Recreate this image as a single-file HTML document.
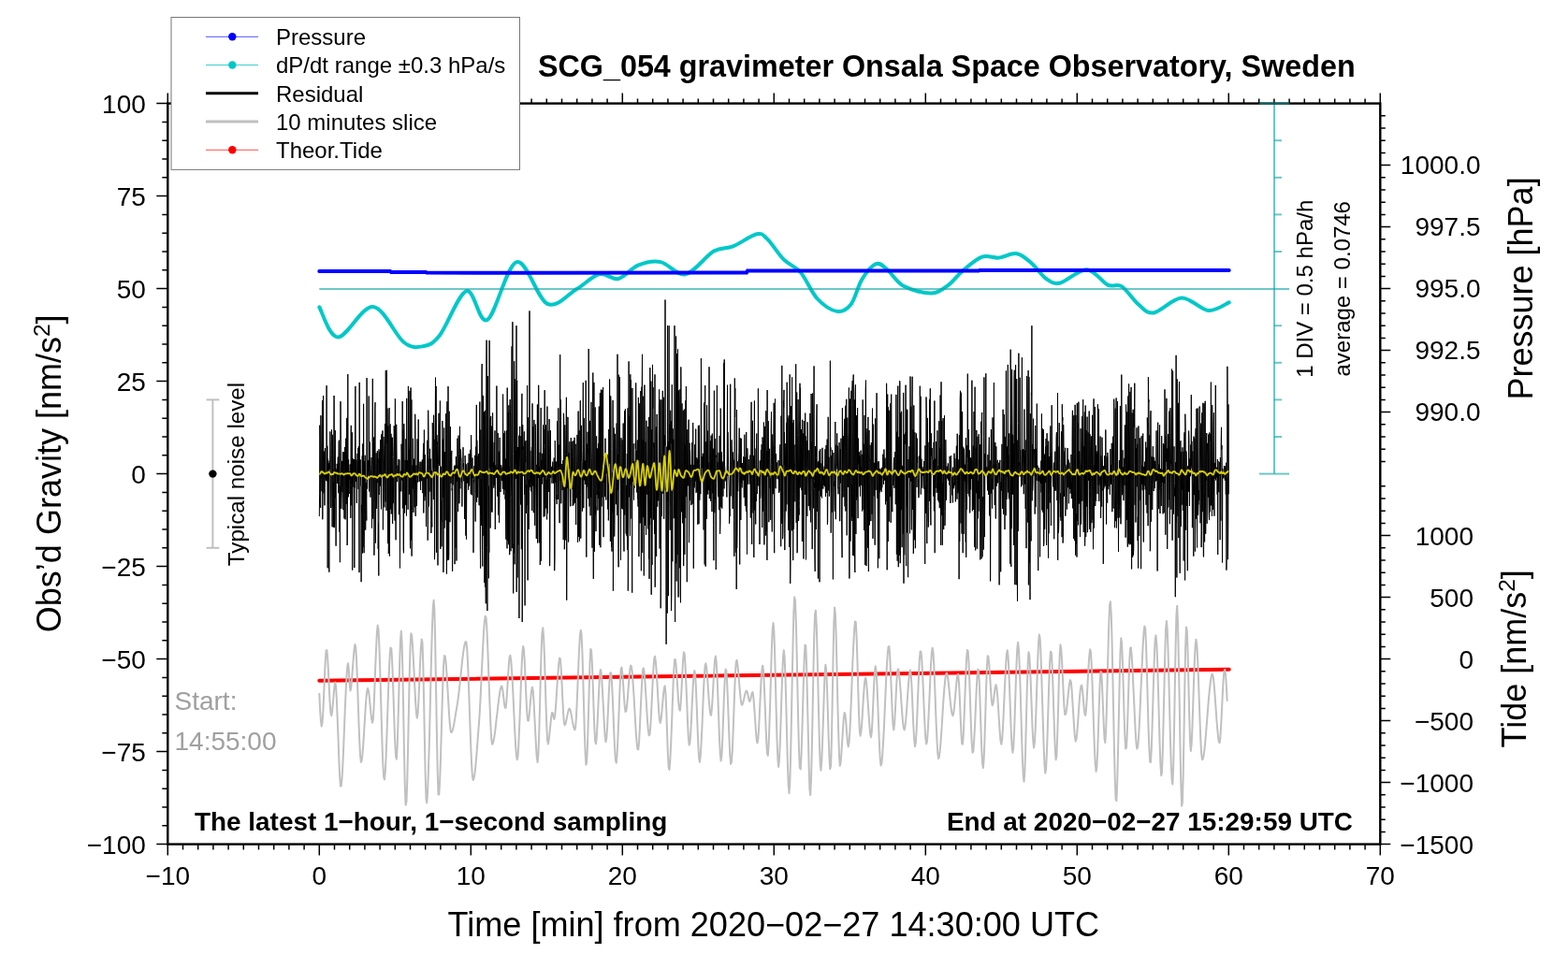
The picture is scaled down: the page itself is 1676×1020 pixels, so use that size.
<!DOCTYPE html><html><head><meta charset="utf-8"><title>SCG_054 gravimeter Onsala Space Observatory</title>
<style>html,body{margin:0;padding:0;background:#fff;overflow:hidden}svg{display:block}text{font-family:"Liberation Sans", Arial, Helvetica, sans-serif}</style></head><body>
<svg width="1676" height="1020" viewBox="0 0 1676 1020">
<rect width="1676" height="1020" fill="#fff"/>
<path d="M341.3,328.4 C344.6,333.7 351.8,360.5 361.3,360.4 C370.9,360.3 386.9,327 398.6,327.9 C410.3,328.8 422.4,358.6 431.4,365.7 C440.3,372.8 445.8,371.4 452.3,370.2 C458.8,369 462.5,368.1 470.2,358.3 C477.9,348.5 490.2,313.8 498.6,311.1 C507.1,308.4 511.9,347.1 520.9,341.9 C529.8,336.7 541.6,282.9 552.3,280.1 C563,277.3 574.4,320.1 585.1,324.9 C595.8,329.7 607.2,314.3 616.4,309 C625.6,303.7 632.8,295 640.3,293.2 C647.8,291.4 654.1,299.6 661.1,298 C668.1,296.4 674.5,286.7 682,283.7 C689.5,280.7 697.4,278.5 705.9,280.1 C714.4,281.7 723.2,295.1 732.7,293.2 C742.2,291.3 754.1,273.8 762.6,268.8 C771.1,263.8 775.8,266.5 783.5,263.4 C791.2,260.3 802.7,251.6 808.8,250.3 C814.9,249 815.1,250.8 820,255.4 C824.9,260 831.9,271.7 837.9,277.7 C843.9,283.7 849.8,284.2 855.8,291.2 C861.8,298.2 867.2,312.6 873.7,319.5 C880.2,326.4 888.6,331.9 894.6,332.9 C900.6,333.9 905,331.2 909.5,325.5 C914,319.8 916.9,305.8 921.4,298.6 C925.9,291.4 931.8,283.9 936.3,282.2 C940.8,280.5 943.3,284.2 948.3,288.2 C953.3,292.2 958.2,301.9 966.2,306.1 C974.2,310.3 988,313.8 996,313.5 C1004,313.2 1008.4,308.6 1013.9,304.6 C1019.4,300.6 1022.8,294.7 1028.8,289.7 C1034.8,284.7 1043.2,277 1049.7,274.7 C1056.2,272.4 1061.4,276.2 1067.6,275.6 C1073.8,275 1081,270.1 1087,271.2 C1093,272.3 1098.2,277.7 1103.4,282.2 C1108.6,286.7 1113.3,294.6 1118.3,298 C1123.3,301.4 1126,304.1 1133.2,302.5 C1140.4,300.9 1153.1,287.8 1161.6,288.2 C1170.1,288.6 1177.8,301.6 1184,304.6 C1190.2,307.6 1193.4,302.6 1198.9,306.1 C1204.4,309.6 1211.1,320.8 1216.8,325.5 C1222.5,330.2 1225.5,335.5 1233.2,334.4 C1240.9,333.2 1253.3,319 1263,318.6 C1272.7,318.2 1283,331.2 1291.4,332 C1299.9,332.8 1310,324.8 1313.7,323.4" fill="none" stroke="#00c8c8" stroke-width="4" stroke-linejoin="round" stroke-linecap="round"/>
<polyline points="341.3,289.9 417,289.9 418,290.9 455,290.9 456,291.5 560,291.8 798,291.5 799,289.6 1046,289.6 1047,289 1313.7,289" fill="none" stroke="#0000ff" stroke-width="4" stroke-linecap="round"/>
<g stroke="rgba(20,165,165,0.62)" stroke-width="2" fill="none">
<line x1="341.3" y1="308.9" x2="1378" y2="308.9"/>
<line x1="1362" y1="110.6" x2="1362" y2="506.6"/>
<line x1="1346" y1="506.6" x2="1378" y2="506.6"/>
<line x1="1362" y1="150.2" x2="1370" y2="150.2"/>
<line x1="1362" y1="189.8" x2="1370" y2="189.8"/>
<line x1="1362" y1="229.4" x2="1370" y2="229.4"/>
<line x1="1362" y1="269" x2="1370" y2="269"/>
<line x1="1362" y1="348.2" x2="1370" y2="348.2"/>
<line x1="1362" y1="387.8" x2="1370" y2="387.8"/>
<line x1="1362" y1="427.4" x2="1370" y2="427.4"/>
<line x1="1362" y1="467" x2="1370" y2="467"/>
</g>
<polyline points="341.3,727.8 1313.7,715.8" fill="none" stroke="#ff0000" stroke-width="4" stroke-linecap="round"/>
<polyline points="341.3,741 342.1,758.4 342.9,770.8 343.7,776.5 344.5,773.1 345.4,760.4 346.2,742.3 347,722.8 347.8,705.8 348.6,695.4 349.4,695.1 350.2,704.1 351,718.6 351.8,735.5 352.6,751.1 353.5,762.1 354.3,765.2 355.1,760.7 355.9,752 356.7,742 357.5,733.6 358.3,729.6 359.1,734.2 359.9,748.3 360.7,768.5 361.6,791.3 362.4,813.3 363.2,830.9 364,840.7 364.8,840.2 365.6,831.6 366.4,817.3 367.2,799 368,778.5 368.8,757.8 369.7,738.7 370.5,723 371.3,712.5 372.1,709.3 372.9,717.7 373.7,731.4 374.5,738.5 375.3,735.1 376.1,726.5 376.9,715.3 377.8,703.7 378.6,694.2 379.4,689.1 380.2,691.7 381,704.1 381.8,723.3 382.6,746.3 383.4,770 384.2,791.4 385,807.3 385.9,814.8 386.7,813.1 387.5,806.2 388.3,795.8 389.1,783.1 389.9,769.7 390.7,756.8 391.5,746 392.3,738.6 393.1,736 394,738.7 394.8,745.2 395.6,753.6 396.4,762.2 397.2,769.1 398,772.7 398.8,769.5 399.6,756.2 400.4,736.4 401.2,713.9 402.1,692.6 402.9,676.2 403.7,668.6 404.5,672.9 405.3,688.2 406.1,711.4 406.9,739 407.7,768.1 408.5,795.2 409.3,817.3 410.2,831.1 411,833.5 411.8,825.4 412.6,809.4 413.4,788.2 414.2,764.3 415,740.2 415.8,718.5 416.6,701.7 417.4,692.5 418.3,693.4 419.1,705.6 419.9,725.6 420.7,749.7 421.5,774.2 422.3,795.2 423.1,809 423.9,811.7 424.7,797.8 425.5,771.6 426.4,739.6 427.2,708.3 428,684.5 428.8,674.8 429.6,686.9 430.4,718.5 431.2,760.7 432,804.5 432.8,840.8 433.6,860.7 434.5,857.1 435.3,834.6 436.1,800.1 436.9,760.4 437.7,722.2 438.5,692.2 439.3,677.2 440.1,679 440.9,688.2 441.7,702.3 442.6,719 443.4,736.1 444.2,751.4 445,762.7 445.8,767.7 446.6,763.4 447.4,749.8 448.2,730.9 449,710.8 449.8,693.6 450.7,683.6 451.5,686.6 452.3,710.9 453.1,748.9 453.9,791.6 454.7,829.9 455.5,854.8 456.3,858.5 457.1,846.9 457.9,825.1 458.8,796.1 459.6,762.9 460.4,728.7 461.2,696.4 462,669.2 462.8,649.9 463.6,641.8 464.4,653.1 465.2,687.1 466,733.8 466.9,783.2 467.7,825.1 468.5,849.4 469.3,849.5 470.1,835.9 470.9,813.6 471.7,786.4 472.5,757.8 473.3,731.6 474.1,711.4 475,701 475.8,701.8 476.6,708.4 477.4,718.9 478.2,732 479,746.1 479.8,759.7 480.6,771.4 481.4,779.7 482.2,783.1 483.1,782.4 483.9,780.3 484.7,777 485.5,772.9 486.3,768.2 487.1,763.2 487.9,758.4 488.7,753.7 489.5,748.3 490.3,741.8 491.2,734.5 492,726.7 492.8,718.9 493.6,711.2 494.4,703.9 495.2,697.5 496,692.2 496.8,688.3 497.6,686.1 498.4,686.6 499.3,694.9 500.1,710.2 500.9,730.5 501.7,753.5 502.5,777 503.3,799 504.1,817.3 504.9,829.7 505.7,834.1 506.5,832.3 507.4,827.6 508.2,820.5 509,811.7 509.8,801.7 510.6,791.1 511.4,780.5 512.2,770.3 513,757.4 513.8,741.5 514.6,723.9 515.5,706.1 516.3,689.3 517.1,674.9 517.9,664.2 518.7,658.7 519.5,660.2 520.3,670.5 521.1,687.7 521.9,709.2 522.7,732.5 523.6,755.3 524.4,775.1 525.2,789.3 526,795.7 526.8,795 527.6,792.1 528.4,787.6 529.2,781.9 530,775.1 530.8,767.9 531.7,760.5 532.5,753.3 533.3,746.6 534.1,741 534.9,736.6 535.7,734 536.5,733.6 537.3,737.5 538.1,744.4 538.9,751.7 539.8,756.7 540.6,756.8 541.4,749.7 542.2,737.8 543,724 543.8,711.3 544.6,702.5 545.4,700.6 546.2,705.8 547,716.4 547.9,731 548.7,747.9 549.5,765.5 550.3,782.3 551.1,796.7 551.9,807.2 552.7,812.2 553.5,809.2 554.3,796.9 555.1,778.1 556,755.9 556.8,733.1 557.6,712.7 558.4,697.6 559.2,690.9 560,694.9 560.8,707.9 561.6,725.7 562.4,744.7 563.2,761 564.1,770.5 564.9,770.6 565.7,764.7 566.5,755.8 567.3,746.2 568.1,738.4 568.9,734.7 569.7,738.3 570.5,749.4 571.3,765 572.2,782.3 573,798.4 573.8,810.2 574.6,815 575.4,806.9 576.2,785.5 577,756.3 577.8,724.7 578.6,696.4 579.4,676.7 580.3,671.3 581.1,680.7 581.9,700.5 582.7,726.1 583.5,752.8 584.3,776.3 585.1,791.9 585.9,795.6 586.7,791.4 587.5,783.7 588.4,774.7 589.2,766.7 590,761.9 590.8,762.5 591.6,766.9 592.4,769 593.2,765.1 594,756.3 594.8,744.3 595.6,731.2 596.5,718.8 597.3,708.9 598.1,703.4 598.9,704.6 599.7,714.4 600.5,729.6 601.3,746.8 602.1,762.4 602.9,773 603.7,775.4 604.6,773.5 605.4,770.1 606.2,765.9 607,761.9 607.8,758.8 608.6,757.6 609.4,758.8 610.2,761.8 611,766.1 611.8,770.7 612.7,775.2 613.5,778.6 614.3,780.4 615.1,778 615.9,767.6 616.7,751.3 617.5,731.8 618.3,711.6 619.1,693.5 619.9,680 620.8,673.7 621.6,678.7 622.4,696.8 623.2,723.2 624,753.3 624.8,782.2 625.6,805.3 626.4,817.8 627.2,814.7 628,795.6 628.9,767.2 629.7,736.3 630.5,709.6 631.3,694.1 632.1,695.3 632.9,709.3 633.7,731 634.5,755.4 635.3,777.5 636.1,792.3 637,795.3 637.8,787.5 638.6,772.9 639.4,755 640.2,737.3 641,723.1 641.8,715.9 642.6,718.2 643.4,728.2 644.2,743 645.1,759.6 645.9,775.5 646.7,787.6 647.5,793.2 648.3,789.5 649.1,777.6 649.9,761 650.7,743.3 651.5,728.2 652.3,719.2 653.2,719.7 654,729.6 654.8,745.9 655.6,765.4 656.4,785.2 657.2,802.3 658,813.5 658.8,815.7 659.6,807 660.4,790.1 661.3,768.7 662.1,746.7 662.9,727.7 663.7,715.5 664.5,713.6 665.3,720 666.1,731.1 666.9,743.8 667.7,754.8 668.5,761 669.4,760 670.2,754 671,744.6 671.8,733.9 672.6,723.5 673.4,715.4 674.2,711.4 675,712.9 675.8,719.7 676.6,730.3 677.5,743.4 678.3,757.8 679.1,772.1 679.9,784.9 680.7,795 681.5,801.1 682.3,801.4 683.1,793 683.9,777.9 684.7,759.4 685.6,740.7 686.4,724.9 687.2,715.3 688,714.5 688.8,720.4 689.6,730.8 690.4,743.7 691.2,757.5 692,770.4 692.8,780.6 693.7,786.3 694.5,785.4 695.3,776.7 696.1,762.5 696.9,745.5 697.7,728.3 698.5,713.5 699.3,703.8 700.1,701.8 700.9,707.6 701.8,718.7 702.6,732.8 703.4,747.6 704.2,760.8 705,770 705.8,772.9 706.6,769.3 707.4,761.7 708.2,752.2 709,742.9 709.9,735.9 710.7,733.4 711.5,741.9 712.3,760.8 713.1,784.2 713.9,806.3 714.7,821 715.5,823 716.3,813.7 717.1,796.8 718,775.3 718.8,752.4 719.6,730.9 720.4,714.1 721.2,704.9 722,705.6 722.8,713.3 723.6,725.1 724.4,738.4 725.2,750.4 726.1,758.4 726.9,759.6 727.7,751.5 728.5,737 729.3,720.3 730.1,705.7 730.9,697.2 731.7,698.9 732.5,710.8 733.3,729.3 734.2,750.8 735,771.7 735.8,788.1 736.6,796.6 737.4,794.6 738.2,784.6 739,769.5 739.8,752.2 740.6,735.8 741.4,723.1 742.3,717 743.1,720.8 743.9,734.7 744.7,754.5 745.5,776.5 746.3,796.5 747.1,810.6 747.9,814.9 748.7,808.9 749.5,795.8 750.4,778 751.2,758.1 752,738.8 752.8,722.5 753.6,711.9 754.4,709.4 755.2,714 756,723.1 756.8,734.7 757.6,746.7 758.5,757.1 759.3,763.8 760.1,764.8 760.9,757.9 761.7,745.5 762.5,730.6 763.3,716.2 764.1,705.5 764.9,701.5 765.7,707.9 766.6,723.6 767.4,744.9 768.2,768.3 769,790 769.8,806.3 770.6,813.6 771.4,808.5 772.2,792.5 773,770.4 773.8,747.1 774.7,727.2 775.5,715.6 776.3,716.4 777.1,728 777.9,746.7 778.7,768.7 779.5,790.2 780.3,807.5 781.1,816.8 781.9,814.9 782.8,802.6 783.6,783.4 784.4,760.9 785.2,738.4 786,719.5 786.8,707.7 787.6,705.8 788.4,710.4 789.2,718.7 790,728.8 790.9,739.1 791.7,747.7 792.5,753 793.3,753.6 794.1,751.7 794.9,748.6 795.7,745 796.5,741.6 797.3,739.2 798.1,738.6 799,740.8 799.8,744.8 800.6,748.6 801.4,750 802.2,748 803,744.2 803.8,740.8 804.6,740.1 805.4,745.6 806.2,756.1 807.1,768.8 807.9,781.2 808.7,790.7 809.5,794.6 810.3,790.3 811.1,778.7 811.9,762.7 812.7,745.1 813.5,728.9 814.3,716.8 815.2,711.7 816,716.9 816.8,731.5 817.6,751.6 818.4,773.2 819.2,792.4 820,805.4 820.8,808 821.6,797.1 822.4,775.6 823.3,748.1 824.1,718.9 824.9,692.6 825.7,673.4 826.5,665.9 827.3,674.4 828.1,696.8 828.9,727.4 829.7,760.6 830.5,790.8 831.4,812.4 832.2,820 833,812.4 833.8,794.7 834.6,770.7 835.4,744.8 836.2,720.8 837,702.9 837.8,695.3 838.6,702.5 839.5,723.9 840.3,753.8 841.1,786.7 841.9,817.1 842.7,839.4 843.5,848.1 844.3,837.3 845.1,809.1 845.9,770.3 846.7,727.2 847.6,686.5 848.4,654.6 849.2,638.2 850,642.4 850.8,663.5 851.6,695.8 852.4,733.4 853.2,770.7 854,801.7 854.8,820.7 855.7,822.4 856.5,808.8 857.3,785.1 858.1,756.4 858.9,727.6 859.7,703.6 860.5,689.4 861.3,690.6 862.1,711.4 862.9,744.9 863.8,783.4 864.6,818.9 865.4,843.7 866.2,850 867,834.2 867.8,802.2 868.6,761.3 869.4,718.8 870.2,681.8 871,657.5 871.9,652.8 872.7,667 873.5,694 874.3,728.1 875.1,763.8 875.9,795.3 876.7,817.2 877.5,823.7 878.3,814 879.1,793.3 880,767.2 880.8,741.1 881.6,720.4 882.4,710.7 883.2,716.2 884,734.2 884.8,759.2 885.6,785.9 886.4,808.7 887.2,822.3 888.1,819.2 888.9,791.8 889.7,749.7 890.5,704.3 891.3,667.1 892.1,649.5 892.9,656.8 893.7,680 894.5,712.9 895.3,749.4 896.2,783.3 897,808.5 897.8,818.8 898.6,815.2 899.4,805.5 900.2,792.6 901,779.2 901.8,768 902.6,761.9 903.4,763.4 904.3,772.1 905.1,783.7 905.9,793.9 906.7,798.4 907.5,794.4 908.3,783.3 909.1,767 909.9,747.3 910.7,726.1 911.5,705.4 912.4,686.9 913.2,672.7 914,664.5 914.8,665.3 915.6,680.3 916.4,705.4 917.2,734.5 918,761.7 918.8,781.1 919.6,786.8 920.5,782.1 921.3,772.3 922.1,759.5 922.9,746.1 923.7,734.4 924.5,726.5 925.3,724.7 926.1,729.6 926.9,739.1 927.7,751.3 928.6,764.4 929.4,776.2 930.2,784.8 931,788.2 931.8,782.7 932.6,768.5 933.4,750 934.2,731.6 935,717.5 935.8,712.3 936.7,718.3 937.5,732.8 938.3,752.7 939.1,774.4 939.9,794.9 940.7,810.7 941.5,818.5 942.3,816.8 943.1,808.9 943.9,796.2 944.8,780.2 945.6,762.2 946.4,743.7 947.2,725.9 948,710.4 948.8,698.4 949.6,691.4 950.4,691.1 951.2,701.4 952,719.4 952.9,740.6 953.7,760.7 954.5,775.5 955.3,780.4 956.1,774.1 956.9,760.2 957.7,743.2 958.5,727.2 959.3,716.7 960.1,715.3 961,719.8 961.8,728 962.6,738.6 963.4,750.3 964.2,761.6 965,771.3 965.8,778 966.6,780.5 967.4,777.5 968.2,770 969.1,759.5 969.9,747.5 970.7,735.6 971.5,725.4 972.3,718.5 973.1,716.4 973.9,723.2 974.7,738 975.5,756.9 976.3,775.8 977.2,790.9 978,798.2 978.8,794.7 979.6,782.2 980.4,763.8 981.2,742.9 982,722.5 982.8,705.9 983.6,696.4 984.4,696.6 985.3,705.5 986.1,720.4 986.9,738.8 987.7,758.1 988.5,775.7 989.3,789 990.1,795.5 990.9,793.1 991.7,782.6 992.5,766.7 993.4,747.8 994.2,728.5 995,711.1 995.8,698.4 996.6,692.7 997.4,696.5 998.2,709.3 999,728 999.8,749.9 1000.6,772 1001.5,791.5 1002.3,805.5 1003.1,811.1 1003.9,809 1004.7,802.9 1005.5,793.7 1006.3,782.3 1007.1,769.7 1007.9,756.8 1008.7,744.5 1009.6,733.7 1010.4,725.4 1011.2,720.4 1012,719.6 1012.8,722.6 1013.6,728.4 1014.4,735.9 1015.2,744.1 1016,752.1 1016.8,759 1017.7,763.7 1018.5,765.3 1019.3,762.4 1020.1,755.7 1020.9,746.7 1021.7,737.1 1022.5,728.5 1023.3,722.5 1024.1,720.9 1024.9,729 1025.8,745.5 1026.6,765.3 1027.4,783.6 1028.2,795.3 1029,795.7 1029.8,784.9 1030.6,766.8 1031.4,744.9 1032.2,723.2 1033,705.3 1033.9,695.1 1034.7,696 1035.5,708.5 1036.3,728.7 1037.1,752.4 1037.9,775.7 1038.7,794.5 1039.5,804.7 1040.3,803.4 1041.1,793.1 1042,777.2 1042.8,758.5 1043.6,740 1044.4,724.7 1045.2,715.6 1046,716.2 1046.8,729.5 1047.6,751.4 1048.4,776.6 1049.2,800 1050.1,816.5 1050.9,821 1051.7,810.6 1052.5,789.5 1053.3,762.9 1054.1,735.8 1054.9,713.5 1055.7,701.3 1056.5,702.1 1057.3,710.6 1058.2,723.2 1059,736.7 1059.8,748.1 1060.6,754.2 1061.4,753 1062.2,747.6 1063,740.6 1063.8,734.5 1064.6,732.1 1065.4,735.8 1066.3,745 1067.1,757.5 1067.9,770.9 1068.7,783.3 1069.5,792.3 1070.3,795.8 1071.1,791.4 1071.9,779.7 1072.7,763.3 1073.5,744.6 1074.4,725.9 1075.2,709.9 1076,698.8 1076.8,695.3 1077.6,702.1 1078.4,717.9 1079.2,739 1080,761.8 1080.8,782.7 1081.6,798.2 1082.5,804.7 1083.3,798.8 1084.1,782.1 1084.9,758.9 1085.7,733.5 1086.5,710.2 1087.3,693.2 1088.1,686.8 1088.9,693.7 1089.7,711.2 1090.6,735.7 1091.4,763.5 1092.2,791.1 1093,814.8 1093.8,830.9 1094.6,835.8 1095.4,824.3 1096.2,799.2 1097,767.3 1097.8,735.2 1098.7,709.6 1099.5,697.2 1100.3,701 1101.1,714.6 1101.9,734.4 1102.7,756.5 1103.5,777.2 1104.3,792.8 1105.1,799.6 1105.9,794.2 1106.8,778.2 1107.6,755.6 1108.4,730.4 1109.2,706.5 1110,687.9 1110.8,678.5 1111.6,681.9 1112.4,696.8 1113.2,719.7 1114,746.9 1114.9,774.9 1115.7,799.9 1116.5,818.4 1117.3,826.7 1118.1,821.9 1118.9,805.7 1119.7,782.1 1120.5,755.4 1121.3,729.4 1122.1,708.5 1123,696.5 1123.8,697.5 1124.6,710.6 1125.4,731.9 1126.2,757 1127,781.6 1127.8,801.4 1128.6,812.2 1129.4,808.5 1130.2,787.7 1131.1,757.2 1131.9,725.3 1132.7,699.9 1133.5,689.3 1134.3,694.2 1135.1,706.9 1135.9,723.9 1136.7,741.5 1137.5,756.1 1138.3,764.1 1139.2,763.7 1140,759.1 1140.8,752.1 1141.6,744 1142.4,736.3 1143.2,730.2 1144,727.1 1144.8,729.2 1145.6,737.7 1146.4,750.1 1147.3,764.2 1148.1,777.6 1148.9,787.9 1149.7,792.6 1150.5,790.5 1151.3,783.5 1152.1,773.2 1152.9,761.4 1153.7,749.7 1154.5,739.8 1155.4,733.5 1156.2,732.5 1157,737.7 1157.8,746.6 1158.6,756.1 1159.4,763.3 1160.2,764.9 1161,758.3 1161.8,745.6 1162.6,729.8 1163.5,713.9 1164.3,701.1 1165.1,694.3 1165.9,696.9 1166.7,709.8 1167.5,729.8 1168.3,753.7 1169.1,778.3 1169.9,800.5 1170.7,817.1 1171.6,824.9 1172.4,820.1 1173.2,803.2 1174,779.3 1174.8,753.7 1175.6,731.5 1176.4,718.1 1177.2,718.4 1178,731.8 1178.8,752.4 1179.7,773.8 1180.5,789.8 1181.3,794.1 1182.1,782.2 1182.9,757.8 1183.7,726.6 1184.5,694 1185.3,665.6 1186.1,646.8 1186.9,643.3 1187.8,657.9 1188.6,686.5 1189.4,723.7 1190.2,764.4 1191,803.3 1191.8,835.1 1192.6,854.6 1193.4,856.3 1194.2,837.6 1195,804.6 1195.9,765.1 1196.7,726.4 1197.5,696.3 1198.3,682.2 1199.1,687.9 1199.9,707 1200.7,733.6 1201.5,761.9 1202.3,786.1 1203.1,800.5 1204,799.6 1204.8,784 1205.6,759.5 1206.4,732.3 1207.2,708.2 1208,693.4 1208.8,692.4 1209.6,699.9 1210.4,713.1 1211.2,729.9 1212.1,748.4 1212.9,766.7 1213.7,782.8 1214.5,794.8 1215.3,800.6 1216.1,798.9 1216.9,790.5 1217.7,777.1 1218.5,760.2 1219.3,741.2 1220.2,721.7 1221,703.3 1221.8,687.4 1222.6,675.6 1223.4,669.5 1224.2,672 1225,688.1 1225.8,713.7 1226.6,743.9 1227.4,774 1228.3,799.1 1229.1,814.3 1229.9,815.1 1230.7,802.4 1231.5,780.3 1232.3,753.1 1233.1,725.2 1233.9,700.7 1234.7,684 1235.5,679.3 1236.4,689 1237.2,709.6 1238,737 1238.8,766.9 1239.6,795 1240.4,817.2 1241.2,829.2 1242,825.7 1242.8,804 1243.6,770.7 1244.5,732.9 1245.3,697.8 1246.1,672.4 1246.9,663.9 1247.7,673 1248.5,694.3 1249.3,723.5 1250.1,756.4 1250.9,788.6 1251.7,815.9 1252.6,834 1253.4,838.5 1254.2,819.5 1255,781.6 1255.8,735.1 1256.6,690.4 1257.4,657.8 1258.2,647.8 1259,665.2 1259.8,702.2 1260.7,749.7 1261.5,798.3 1262.3,838.8 1263.1,861.8 1263.9,858.4 1264.7,828.9 1265.5,784.1 1266.3,735.3 1267.1,693.7 1267.9,670.6 1268.8,674.2 1269.6,697.1 1270.4,730.2 1271.2,764.7 1272,791.9 1272.8,802.9 1273.6,796.1 1274.4,778.7 1275.2,755 1276,729.4 1276.9,706 1277.7,689.4 1278.5,683.7 1279.3,689.8 1280.1,704.1 1280.9,724.1 1281.7,746.9 1282.5,769.8 1283.3,790.2 1284.1,805.2 1285,812.2 1285.8,811.4 1286.6,807.7 1287.4,801.7 1288.2,793.9 1289,784.7 1289.8,774.7 1290.6,764.3 1291.4,754 1292.2,744.3 1293.1,735.7 1293.9,728.6 1294.7,723.5 1295.5,720.8 1296.3,721.5 1297.1,726.3 1297.9,734.5 1298.7,744.9 1299.5,756.5 1300.3,768.2 1301.2,778.9 1302,787.5 1302.8,793.1 1303.6,794.3 1304.4,788 1305.2,775.3 1306,759 1306.8,742.1 1307.6,727.4 1308.4,717.7 1309.3,715.9 1310.1,721.8 1310.9,733.7 1311.7,749.8" fill="none" stroke="#c0c0c0" stroke-width="2" stroke-linejoin="round"/>
<polyline points="341.3,552.1 341.6,527.9 341.8,454.7 342.1,469.9 342.4,538.1 342.7,542.9 342.9,444.2 343.2,471.1 343.5,508.5 343.7,512.5 344,525.3 344.3,466.5 344.5,428 344.8,555.3 345.1,513.5 345.4,495.6 345.6,423 345.9,527.3 346.2,482.6 346.4,492.1 346.7,510.2 347,540.4 347.2,521.5 347.5,479.3 347.8,511.4 348.1,507.1 348.3,513.8 348.6,504.5 348.9,510 349.1,412.2 349.4,514.6 349.7,511.2 349.9,476.8 350.2,607.3 350.5,490.2 350.8,514 351,539.5 351.3,504.7 351.6,495.4 351.8,611.7 352.1,492.6 352.4,501.4 352.6,501.7 352.9,461.4 353.2,486.4 353.5,523.2 353.7,543 354,526.5 354.3,478.3 354.5,459.4 354.8,479.1 355.1,563.3 355.3,510.2 355.6,464.9 355.9,541.4 356.2,515.4 356.4,563.9 356.7,499.6 357,423 357.2,427.3 357.5,564.1 357.8,555.5 358,500.8 358.3,460.2 358.6,532 358.9,533.8 359.1,583.7 359.4,501.7 359.7,503.7 359.9,502.2 360.2,495.9 360.5,499.6 360.7,517 361,498.7 361.3,488.6 361.6,527.1 361.8,516.6 362.1,472.9 362.4,470.7 362.6,514.7 362.9,568.8 363.2,519.5 363.4,601.2 363.7,508.9 364,429.2 364.3,469.2 364.5,524 364.8,543.9 365.1,533.6 365.3,521.5 365.6,492.9 365.9,516.2 366.1,526.1 366.4,483.2 366.7,523.6 367,545.2 367.2,511.1 367.5,483.3 367.8,503.8 368,554.4 368.3,509.3 368.6,477.9 368.8,490.2 369.1,555.4 369.4,514.5 369.7,468.7 369.9,522.1 370.2,539 370.5,522.7 370.7,446.9 371,583 371.3,582.1 371.5,523 371.8,400.1 372.1,513.7 372.4,531.3 372.6,491.4 372.9,523.3 373.2,528 373.4,504.3 373.7,512.6 374,502.9 374.2,496.4 374.5,522.1 374.8,553.9 375.1,461.9 375.3,454.9 375.6,518.5 375.9,540.5 376.1,503.7 376.4,462.4 376.7,609.6 376.9,543.6 377.2,495.4 377.5,490.5 377.8,518.4 378,520.8 378.3,492.4 378.6,491.2 378.8,607 379.1,518.8 379.4,521.7 379.7,427.6 379.9,413 380.2,503.6 380.5,514.8 380.7,491.7 381,507.4 381.3,537.9 381.5,523.3 381.8,490.8 382.1,485 382.4,490.5 382.6,508.5 382.9,478.9 383.2,523.2 383.4,477 383.7,514.3 384,612.1 384.2,408.9 384.5,506.5 384.8,495.3 385.1,492.1 385.3,491.6 385.6,519.8 385.9,519.6 386.1,622.2 386.4,539.8 386.7,544.5 386.9,548.7 387.2,487.4 387.5,591.5 387.8,474.5 388,585.1 388.3,561.8 388.6,431.8 388.8,482 389.1,591.2 389.4,568.4 389.6,493.1 389.9,508.9 390.2,486.8 390.5,500.3 390.7,566.6 391,537.6 391.3,516.1 391.5,535.3 391.8,556.5 392.1,404.1 392.3,481 392.6,522.6 392.9,494 393.2,508.7 393.4,498.6 393.7,492.1 394,504 394.2,423.5 394.5,499.4 394.8,525.5 395,502.6 395.3,472.6 395.6,491 395.9,531.4 396.1,531.7 396.4,508.8 396.7,501.6 396.9,496.4 397.2,489.1 397.5,564.6 397.7,527.8 398,500 398.3,404.9 398.6,472.4 398.8,554.6 399.1,549.8 399.4,521 399.6,467.6 399.9,593.7 400.2,569.8 400.4,512.7 400.7,437.2 401,430.2 401.3,537.8 401.5,580.5 401.8,498.1 402.1,484.4 402.3,495.9 402.6,543.8 402.9,525.3 403.1,488.5 403.4,482 403.7,516.1 404,490.4 404.2,586.8 404.5,558.8 404.8,615.5 405,480.4 405.3,529 405.6,483.1 405.8,518.1 406.1,518.6 406.4,519.5 406.7,470.3 406.9,504.1 407.2,522.2 407.5,544.4 407.7,464.4 408,507.6 408.3,506.7 408.5,469.8 408.8,461.1 409.1,460.4 409.4,566.4 409.6,527.6 409.9,467 410.2,475.6 410.4,485.8 410.7,516.9 411,542.4 411.2,508.3 411.5,453 411.8,529.2 412.1,536.5 412.3,396.1 412.6,465.6 412.9,403.6 413.1,545.9 413.4,395.8 413.7,474.2 414,436.6 414.2,458.6 414.5,581.1 414.8,455.4 415,498.6 415.3,591.9 415.6,580.7 415.8,444.9 416.1,436.1 416.4,594.6 416.7,545.6 416.9,455.7 417.2,453.5 417.5,544.4 417.7,504.5 418,463.8 418.3,549.5 418.5,476.3 418.8,467.6 419.1,486.1 419.4,467.9 419.6,560 419.9,541.3 420.2,521 420.4,538.1 420.7,488.5 421,472.2 421.2,455.3 421.5,462 421.8,529 422.1,556.6 422.3,426.4 422.6,428.5 422.9,551.5 423.1,577.3 423.4,502.3 423.7,453.8 423.9,470.4 424.2,506.9 424.5,515.1 424.8,514.9 425,497.7 425.3,510.3 425.6,509.8 425.8,507.9 426.1,491 426.4,550.1 426.6,528.3 426.9,491.5 427.2,520.4 427.5,607.4 427.7,526.2 428,517.5 428.3,503.6 428.5,506.6 428.8,525.4 429.1,474.7 429.3,483.8 429.6,513.4 429.9,513.3 430.2,429.1 430.4,543.4 430.7,459.8 431,494.5 431.2,588 431.5,591.3 431.8,453.1 432,468.8 432.3,535 432.6,548.6 432.9,512.3 433.1,491.9 433.4,539.8 433.7,517.4 433.9,469.3 434.2,483 434.5,551.5 434.7,425.9 435,509.3 435.3,493 435.6,492.2 435.8,508.3 436.1,544.8 436.4,412.9 436.6,456.9 436.9,510.7 437.2,480.7 437.4,528.5 437.7,471.9 438,417.9 438.3,571.4 438.5,586.3 438.8,451.6 439.1,414.5 439.3,577.3 439.6,577.3 439.9,427.4 440.1,594.6 440.4,545.8 440.7,539.3 441,497.4 441.2,522.5 441.5,468.8 441.8,527.6 442,547.8 442.3,523.7 442.6,496.6 442.8,490.6 443.1,542.3 443.4,530.3 443.7,442.8 443.9,452.9 444.2,551.8 444.5,511.8 444.7,508.1 445,497.5 445.3,541.1 445.5,540.1 445.8,512.5 446.1,469.4 446.4,495.4 446.6,515.6 446.9,510.5 447.2,448.5 447.4,498.4 447.7,501.2 448,507.9 448.2,515 448.5,511.9 448.8,495.5 449.1,493.7 449.3,507.9 449.6,524 449.9,498 450.1,493.8 450.4,510.5 450.7,514.2 451,507.6 451.2,491.7 451.5,491.6 451.8,527.2 452,524.8 452.3,488.4 452.6,473.9 452.8,548.5 453.1,518.7 453.4,459.6 453.7,499.2 453.9,535.3 454.2,494.3 454.5,486.2 454.7,526.7 455,530.8 455.3,510.6 455.5,563.1 455.8,504.7 456.1,511.6 456.4,508.2 456.6,490.9 456.9,470.8 457.2,577.7 457.4,561.5 457.7,438.7 458,466.4 458.2,486.6 458.5,541.4 458.8,514.3 459.1,490.6 459.3,501.7 459.6,479.8 459.9,525.6 460.1,520.6 460.4,490.6 460.7,509.3 460.9,570 461.2,503.2 461.5,553.7 461.8,563.4 462,501 462.3,452.1 462.6,464.4 462.8,499.8 463.1,502.4 463.4,534.1 463.6,443.8 463.9,499.9 464.2,469.9 464.5,598.2 464.7,590.5 465,465.3 465.3,442.6 465.5,403.6 465.8,505.7 466.1,412.9 466.3,441.6 466.6,590.7 466.9,465.1 467.2,474.8 467.4,472.5 467.7,523.9 468,604.4 468.2,509.2 468.5,496.8 468.8,452.2 469,441.8 469.3,459.8 469.6,496.4 469.9,497.9 470.1,485.5 470.4,428.5 470.7,536.7 470.9,586.9 471.2,498.8 471.5,556 471.7,535.1 472,584.3 472.3,556.8 472.6,557.8 472.8,450 473.1,486.5 473.4,532 473.6,469.8 473.9,611.9 474.2,567.3 474.4,510.2 474.7,457.4 475,564.7 475.3,518.3 475.5,483.2 475.8,515.8 476.1,556.3 476.3,516.8 476.6,442.3 476.9,467.8 477.1,507.4 477.4,613.6 477.7,439.8 478,429.2 478.2,543.5 478.5,599.1 478.8,506.8 479,413.1 479.3,477.7 479.6,598.6 479.8,593.2 480.1,439.7 480.4,501.9 480.7,511.7 480.9,558.2 481.2,506.1 481.5,456.3 481.7,509.2 482,516.8 482.3,507 482.5,487.8 482.8,481.9 483.1,524.3 483.4,522.1 483.6,610.9 483.9,503.3 484.2,518.4 484.4,512.7 484.7,502.9 485,508.3 485.2,506.1 485.5,498.2 485.8,498.4 486.1,603.2 486.3,497.5 486.6,525 486.9,516.8 487.1,585.8 487.4,488.2 487.7,545.1 488,599.5 488.2,497.4 488.5,515 488.8,491.9 489,468.7 489.3,532 489.6,547.1 489.8,485.3 490.1,465.6 490.4,485.8 490.7,529.4 490.9,538.3 491.2,533.8 491.5,455.9 491.7,520.3 492,522.3 492.3,494.6 492.5,480.5 492.8,489.1 493.1,490 493.4,515.6 493.6,508.4 493.9,541.6 494.2,508.8 494.4,505.3 494.7,508.8 495,478.2 495.2,499.1 495.5,495.2 495.8,514.4 496.1,503.8 496.3,511.7 496.6,554.9 496.9,523.8 497.1,487.1 497.4,494.4 497.7,513.7 497.9,572.7 498.2,496.3 498.5,576.6 498.8,513.1 499,505.6 499.3,516.6 499.6,510.2 499.8,502.3 500.1,495 500.4,511.4 500.6,523.7 500.9,504.6 501.2,485.2 501.5,506.7 501.7,519.5 502,509.7 502.3,495.2 502.5,484.1 502.8,480.8 503.1,512 503.3,528.4 503.6,465.2 503.9,484.8 504.2,528.6 504.4,529.3 504.7,504.4 505,489.5 505.2,511.3 505.5,507.4 505.8,502.7 506,590.9 506.3,513.2 506.6,515.9 506.9,499.1 507.1,498 507.4,508.2 507.7,486.9 507.9,527.2 508.2,557.6 508.5,484.2 508.7,477.7 509,486.1 509.3,432.9 509.6,536.8 509.8,470.8 510.1,482.8 510.4,528.1 510.6,531.8 510.9,487.6 511.2,497.2 511.4,511.9 511.7,485 512,539.9 512.3,540.3 512.5,464.8 512.8,429.6 513.1,472.2 513.3,582.6 513.6,607.6 513.9,459.5 514.1,549.4 514.4,512.3 514.7,561.9 515,400.7 515.2,389 515.5,588.6 515.8,605.5 516,554.9 516.3,422.9 516.6,428.7 516.8,572.8 517.1,571.1 517.4,440.2 517.7,463.6 517.9,623.1 518.2,501.6 518.5,627.8 518.7,438.8 519,612.6 519.3,645.3 519.5,566.8 519.8,383.9 520.1,363.7 520.4,391.5 520.6,585.5 520.9,653.1 521.2,509.8 521.4,402 521.7,464.9 522,553.9 522.3,618.3 522.5,519.7 522.8,590.8 523.1,364 523.3,500.4 523.6,447.4 523.9,506.6 524.1,564.5 524.4,500.4 524.7,444.9 525,500.9 525.2,547.1 525.5,479.6 525.8,455.6 526,547.7 526.3,519.4 526.6,441.4 526.8,473.2 527.1,499.5 527.4,494.4 527.7,521.2 527.9,521.7 528.2,472.9 528.5,519.1 528.7,480.3 529,460.4 529.3,565.9 529.5,535.7 529.8,497.3 530.1,505.3 530.4,508 530.6,511 530.9,412.6 531.2,495.5 531.4,504.3 531.7,530.6 532,518.9 532.2,462.9 532.5,550.4 532.8,497.2 533.1,492.3 533.3,482.8 533.6,558.8 533.9,532.6 534.1,467.9 534.4,488 534.7,508.6 534.9,526 535.2,514.2 535.5,505.1 535.8,497.3 536,501.4 536.3,513 536.6,514.1 536.8,507.1 537.1,499.8 537.4,522.7 537.6,421.5 537.9,499.3 538.2,514.1 538.5,528.6 538.7,463.2 539,506.7 539.3,523.5 539.5,460.7 539.8,462.7 540.1,533.8 540.3,490.5 540.6,559.9 540.9,576.7 541.2,504.4 541.4,460.4 541.7,510 542,586.4 542.2,414.6 542.5,565.1 542.8,578.3 543,563.7 543.3,440.7 543.6,582.2 543.9,433.3 544.1,498 544.4,500.1 544.7,593.2 544.9,432.2 545.2,427.1 545.5,437.7 545.7,533.7 546,589.3 546.3,531.3 546.6,504.1 546.8,440.7 547.1,370.3 547.4,586.1 547.6,473.1 547.9,344.2 548.2,485.6 548.4,593.2 548.7,634.4 549,581.9 549.3,591.3 549.5,386.8 549.8,386.2 550.1,603.3 550.3,549.4 550.6,405.5 550.9,422.3 551.1,512 551.4,482.4 551.7,495.4 552,348.2 552.2,632.9 552.5,408.5 552.8,407 553,617.5 553.3,564.2 553.6,478 553.8,492 554.1,582.5 554.4,502.7 554.7,465.7 554.9,661 555.2,499.4 555.5,482.9 555.7,455.9 556,505.9 556.3,534.3 556.5,539.4 556.8,466.2 557.1,492.7 557.4,587.2 557.6,459 557.9,420.9 558.2,665 558.4,630 558.7,454.2 559,480.8 559.3,477.7 559.5,508.7 559.8,499.3 560.1,471.1 560.3,461.4 560.6,528.8 560.9,513.1 561.1,647.4 561.4,472.6 561.7,494.4 562,470.9 562.2,486.5 562.5,548.8 562.8,518.4 563,540.2 563.3,483.7 563.6,412.2 563.8,543 564.1,620.4 564.4,509.1 564.7,446.3 564.9,497.3 565.2,565.9 565.5,513.1 565.7,524.3 566,332.4 566.3,499 566.5,520.9 566.8,481.8 567.1,501.5 567.4,502 567.6,517.1 567.9,525.6 568.2,510.3 568.4,478 568.7,545.9 569,431.4 569.2,519.6 569.5,497 569.8,456 570.1,506.2 570.3,548.2 570.6,504.9 570.9,449 571.1,528.2 571.4,505.4 571.7,561.8 571.9,537.2 572.2,453.6 572.5,460.3 572.8,522.1 573,533 573.3,576 573.6,498 573.8,496.8 574.1,498.8 574.4,432.5 574.6,580.5 574.9,500.7 575.2,501.7 575.5,510.9 575.7,411.8 576,505.6 576.3,580.4 576.5,499.3 576.8,503.1 577.1,483.8 577.3,604 577.6,510.4 577.9,510.9 578.2,436 578.4,599.7 578.7,492.2 579,493.5 579.2,512.3 579.5,517.4 579.8,484.9 580,506 580.3,510.1 580.6,454.4 580.9,499 581.1,552.6 581.4,541.2 581.7,459.2 581.9,475 582.2,417.1 582.5,551.9 582.7,479.8 583,505.1 583.3,454.3 583.6,504.6 583.8,543.5 584.1,512.8 584.4,547.8 584.6,555.4 584.9,434.5 585.2,473.8 585.4,549.1 585.7,465.2 586,460.7 586.3,475.4 586.5,485.2 586.8,525.9 587.1,448.1 587.3,483.7 587.6,605.1 587.9,569 588.1,477.4 588.4,460.2 588.7,511 589,504.4 589.2,506.8 589.5,501.9 589.8,498.8 590,516.8 590.3,508.7 590.6,497 590.8,493.7 591.1,498.8 591.4,503.3 591.7,516.9 591.9,502.1 592.2,489.6 592.5,506 592.7,610.2 593,595.5 593.3,471.1 593.6,510.4 593.8,515.7 594.1,495.4 594.4,493.7 594.6,533.7 594.9,529.1 595.2,539.1 595.4,502.1 595.7,450.3 596,465.3 596.3,492.2 596.5,534 596.8,436.3 597.1,506 597.3,498.7 597.6,475.6 597.9,547 598.1,559.2 598.4,453.6 598.7,379.2 599,514.2 599.2,427.5 599.5,475.2 599.8,538.3 600,504.4 600.3,502.9 600.6,509.8 600.8,496 601.1,524.1 601.4,515 601.7,498.9 601.9,492.1 602.2,577.1 602.5,441.8 602.7,449.7 603,510.2 603.3,587.3 603.5,581 603.8,454.4 604.1,466.5 604.4,485.4 604.6,575.7 604.9,577.6 605.2,450.3 605.4,424.8 605.7,641.7 606,548.9 606.2,512.7 606.5,521.9 606.8,445.9 607.1,446.1 607.3,484.9 607.6,579.5 607.9,493.8 608.1,484.1 608.4,492.9 608.7,501.5 608.9,472.2 609.2,509.6 609.5,537.2 609.8,541.3 610,532.6 610.3,468.1 610.6,516.9 610.8,504.2 611.1,510.8 611.4,522.6 611.6,478.7 611.9,471.9 612.2,540.8 612.5,532.5 612.7,488.4 613,471.2 613.3,530.9 613.5,539.4 613.8,497.8 614.1,467.8 614.3,481.9 614.6,537.7 614.9,477.6 615.2,474.8 615.4,536.8 615.7,561 616,506.8 616.2,532.4 616.5,503 616.8,472.6 617,464.9 617.3,505.3 617.6,579.7 617.9,525.5 618.1,439.6 618.4,560.9 618.7,573.9 618.9,461.9 619.2,460.3 619.5,578.5 619.7,552.9 620,467.5 620.3,428.3 620.6,529.4 620.8,575.6 621.1,494.2 621.4,454.9 621.6,490.2 621.9,494.3 622.2,514.5 622.4,546.7 622.7,504.5 623,481.5 623.3,409.1 623.5,493.6 623.8,543.2 624.1,492.6 624.3,447.1 624.6,513.4 624.9,507.9 625.1,492.4 625.4,493.2 625.7,518 626,475.1 626.2,406.8 626.5,495.3 626.8,595.6 627,529.8 627.3,474.6 627.6,482.4 627.8,520.6 628.1,461.8 628.4,478.5 628.7,487.9 628.9,533.2 629.2,373 629.5,449.9 629.7,526.6 630,541.5 630.3,536.5 630.6,449.9 630.8,519.2 631.1,551.3 631.4,508.2 631.6,531.8 631.9,429.8 632.2,483 632.4,489.6 632.7,551.1 633,585.7 633.3,471.8 633.5,435.5 633.8,398.5 634.1,586.7 634.3,618.9 634.6,521.8 634.9,408.9 635.1,450.8 635.4,589.7 635.7,558.6 636,442.8 636.2,435.5 636.5,550.3 636.8,541.4 637,568.1 637.3,523.4 637.6,466.4 637.8,493.6 638.1,529.1 638.4,479.5 638.7,496.4 638.9,545.6 639.2,511.6 639.5,474.2 639.7,533 640,497 640.3,434.6 640.5,524.6 640.8,582.7 641.1,507.9 641.4,420 641.6,516.9 641.9,585.3 642.2,535.6 642.4,416.6 642.7,473.3 643,541.4 643.2,477 643.5,416.9 643.8,531.6 644.1,529.6 644.3,484 644.6,414 644.9,533.8 645.1,574.2 645.4,496.3 645.7,507.8 645.9,516.3 646.2,488.5 646.5,531.1 646.8,513.8 647,468.7 647.3,507.6 647.6,529.7 647.8,534.5 648.1,497.3 648.4,506.3 648.6,505.5 648.9,485.8 649.2,493.8 649.5,544.4 649.7,503.3 650,487.1 650.3,556.4 650.5,552.5 650.8,459 651.1,489.8 651.3,496.1 651.6,405.5 651.9,450.1 652.2,527.7 652.4,578.9 652.7,423.4 653,433.7 653.2,479.2 653.5,584.7 653.8,513.7 654,589.6 654.3,534.8 654.6,505.4 654.9,548.4 655.1,427.9 655.4,631.7 655.7,560.5 655.9,494.3 656.2,457.4 656.5,468.5 656.7,573.5 657,548.3 657.3,494.7 657.6,463.9 657.8,480.7 658.1,538.5 658.4,539.2 658.6,520.5 658.9,478.7 659.2,452.5 659.4,504.6 659.7,551.1 660,378.8 660.3,502.2 660.5,523.5 660.8,486.1 661.1,606.3 661.3,400.7 661.6,489.4 661.9,495.9 662.1,499.6 662.4,403 662.7,496.4 663,501.4 663.2,522.6 663.5,598.8 663.8,471.7 664,468.2 664.3,518.7 664.6,543.7 664.8,519.4 665.1,470.4 665.4,517.5 665.7,544.5 665.9,477 666.2,452.6 666.5,489.9 666.7,573 667,589.5 667.3,458 667.6,439.1 667.8,550.6 668.1,541.5 668.4,437.3 668.6,490.3 668.9,522 669.2,570.7 669.4,519.2 669.7,518.9 670,573.2 670.3,485 670.5,588 670.8,530.3 671.1,436.3 671.3,631.7 671.6,586.2 671.9,527.2 672.1,386.4 672.4,531.4 672.7,444.7 673,475.6 673.2,490.2 673.5,572.9 673.8,400.3 674,518.3 674.3,406.2 674.6,438.1 674.8,521.3 675.1,554.6 675.4,508.9 675.7,633.7 675.9,414.9 676.2,497.3 676.5,502.2 676.7,515.1 677,474.3 677.3,524.5 677.5,534.6 677.8,493 678.1,501.6 678.4,521.3 678.6,513.8 678.9,509.6 679.2,473.8 679.4,479.9 679.7,409.4 680,493.8 680.2,481.7 680.5,511.7 680.8,526.5 681.1,484 681.3,470.5 681.6,533.9 681.9,534.4 682.1,541.7 682.4,424.9 682.7,510.9 682.9,595.1 683.2,555.4 683.5,438.9 683.8,431.3 684,559.5 684.3,557.9 684.6,500.9 684.8,418.1 685.1,480.5 685.4,610.3 685.6,448.7 685.9,413.8 686.2,421.8 686.5,378.8 686.7,591 687,470.4 687.3,537.7 687.5,553.1 687.8,423.7 688.1,431.4 688.3,615.5 688.6,489.7 688.9,411.6 689.2,453.1 689.4,561.8 689.7,530.6 690,472.5 690.2,484.6 690.5,572 690.8,467.3 691,449.7 691.3,498.2 691.6,518.7 691.9,528.7 692.1,503.6 692.4,565.4 692.7,497.8 692.9,456 693.2,516.9 693.5,597.7 693.7,445.9 694,618.9 694.3,535.5 694.6,560.8 694.8,393.1 695.1,496.4 695.4,553.9 695.6,549 695.9,407.6 696.2,635.8 696.4,459.6 696.7,581.9 697,603.9 697.3,546.3 697.5,389.9 697.8,436.8 698.1,414.2 698.3,530.7 698.6,555.6 698.9,473.2 699.1,478.3 699.4,474.5 699.7,571 700,400.4 700.2,627.7 700.5,562.9 700.8,567.6 701,464 701.3,456.4 701.6,594.9 701.9,509.3 702.1,442.9 702.4,470.2 702.7,541.7 702.9,509.9 703.2,533 703.5,515 703.7,535.4 704,527.3 704.3,437.3 704.6,416.4 704.8,536.6 705.1,586.5 705.4,455.6 705.6,430 705.9,427.3 706.2,650.3 706.4,627.3 706.7,521.5 707,427.5 707.3,534.8 707.5,551.9 707.8,488.1 708.1,498.3 708.3,417.8 708.6,470.2 708.9,527.7 709.1,515 709.4,424.8 709.7,554.8 710,488.6 710.2,493.5 710.5,465.1 710.8,476.2 711,320.5 711.3,524.2 711.6,503.4 711.8,490.6 712.1,688.8 712.4,522.2 712.7,506.3 712.9,477.5 713.2,655.7 713.5,348.2 713.7,535.4 714,519.5 714.3,472.4 714.5,637.1 714.8,456.6 715.1,348.2 715.4,504.7 715.6,454 715.9,544.7 716.2,566.7 716.4,542.6 716.7,438.8 717,474.2 717.2,450.3 717.5,653.1 717.8,636.2 718.1,565.7 718.3,411.3 718.6,556.2 718.9,600.3 719.1,458.3 719.4,524.4 719.7,483.1 719.9,469.7 720.2,554.2 720.5,537.4 720.8,516.3 721,348.2 721.3,528.9 721.6,665 721.8,498.1 722.1,577.9 722.4,602.2 722.6,359.5 722.9,525.5 723.2,621.5 723.5,412.4 723.7,378.1 724,593.1 724.3,445.9 724.5,373.4 724.8,540 725.1,638.5 725.3,463.8 725.6,417.3 725.9,539.1 726.2,607.3 726.4,544.3 726.7,431.8 727,416 727.2,634.7 727.5,644.3 727.8,392.4 728,422.2 728.3,525.6 728.6,547.3 728.9,431.4 729.1,431.5 729.4,552.1 729.7,559.4 729.9,470.7 730.2,439.1 730.5,548.9 730.7,605.1 731,488.7 731.3,437.6 731.6,516.2 731.8,592.8 732.1,475.5 732.4,545 732.6,553.8 732.9,428.2 733.2,530.8 733.4,413.1 733.7,474.6 734,470.7 734.3,622.2 734.5,492 734.8,459.3 735.1,489.3 735.3,519.4 735.6,514.4 735.9,457.6 736.1,448.7 736.4,580.2 736.7,568.9 737,473.7 737.2,535.1 737.5,481.5 737.8,510.9 738,503.4 738.3,496.9 738.6,512.6 738.9,540.1 739.1,516.8 739.4,483.8 739.7,473.2 739.9,521.6 740.2,538.8 740.5,508.6 740.7,452 741,489.4 741.3,607.7 741.6,552.5 741.8,496.9 742.1,503 742.4,521.3 742.6,475.4 742.9,476.9 743.2,514.5 743.4,513.5 743.7,458.6 744,526.9 744.3,525.7 744.5,501.5 744.8,489.2 745.1,504.2 745.3,525.9 745.6,491 745.9,560.8 746.1,511.1 746.4,455 746.7,527.2 747,560 747.2,454.7 747.5,495.5 747.8,534.8 748,525 748.3,505.1 748.6,506.2 748.8,528.2 749.1,484.8 749.4,383.1 749.7,408.1 749.9,512.2 750.2,488 750.5,488.8 750.7,500.3 751,493.5 751.3,484.8 751.5,512.2 751.8,486 752.1,566.5 752.4,481.8 752.6,430.6 752.9,491.3 753.2,603.5 753.4,444.9 753.7,412.1 754,493.7 754.2,605.7 754.5,539.2 754.8,472.4 755.1,529.9 755.3,554.7 755.6,433.3 755.9,477 756.1,527.6 756.4,460.7 756.7,528.5 756.9,494.5 757.2,502.3 757.5,524.1 757.8,518.3 758,392.3 758.3,533.1 758.6,517.3 758.8,502.8 759.1,478.6 759.4,471.3 759.6,535.6 759.9,520.9 760.2,465.7 760.5,502.1 760.7,520.5 761,547.1 761.3,463.6 761.5,489.6 761.8,527.4 762.1,497 762.3,479.7 762.6,561.4 762.9,599.2 763.2,491.7 763.4,417.7 763.7,548.2 764,532 764.2,533.6 764.5,469.8 764.8,468.9 765,557.1 765.3,609 765.6,516.7 765.9,486.6 766.1,489.1 766.4,412 766.7,502.7 766.9,493.9 767.2,502.6 767.5,531.2 767.7,510.6 768,483.9 768.3,484.4 768.6,545.2 768.8,510.7 769.1,465.9 769.4,483.5 769.6,570.8 769.9,559.4 770.2,436.6 770.4,442.6 770.7,542.2 771,508.9 771.3,483.2 771.5,513 771.8,543.6 772.1,493.5 772.3,495.2 772.6,508.2 772.9,530.7 773.1,513.8 773.4,490.7 773.7,388.3 774,522.4 774.2,384.4 774.5,497.2 774.8,500.9 775,514.6 775.3,513.6 775.6,509.3 775.9,506.2 776.1,512.9 776.4,507.3 776.7,527.4 776.9,531.5 777.2,494.5 777.5,411.7 777.7,508.7 778,462.1 778.3,478.6 778.6,497.8 778.8,509.8 779.1,516 779.4,531.2 779.6,559.8 779.9,543.8 780.2,552 780.4,527 780.7,410.7 781,530.4 781.3,494 781.5,505.6 781.8,481.7 782.1,470.3 782.3,476.2 782.6,488.8 782.9,511.9 783.1,543.9 783.4,483.6 783.7,493.8 784,531.9 784.2,491.8 784.5,556.8 784.8,594.8 785,470.2 785.3,404.4 785.6,446 785.8,415 786.1,585.1 786.4,590.7 786.7,572.7 786.9,499.2 787.2,629.9 787.5,438.2 787.7,586.1 788,566.4 788.3,493.4 788.5,522.3 788.8,525.2 789.1,512.9 789.4,493 789.6,490.8 789.9,483.8 790.2,457.7 790.4,517.6 790.7,603.4 791,504.6 791.2,468.4 791.5,508.5 791.8,556 792.1,526.7 792.3,468.8 792.6,516.8 792.9,508.3 793.1,521.4 793.4,501.2 793.7,495 793.9,509.9 794.2,513.6 794.5,507.6 794.8,488.2 795,508.1 795.3,532 795.6,502.6 795.8,464.7 796.1,496 796.4,540.9 796.6,488.8 796.9,504.5 797.2,539.9 797.5,546.6 797.7,462 798,537.9 798.3,555.8 798.5,592.6 798.8,479.3 799.1,489 799.3,509.9 799.6,517.6 799.9,495.3 800.2,491.1 800.4,502.2 800.7,506.7 801,505.1 801.2,517.6 801.5,516.8 801.8,486.6 802,494.1 802.3,553.6 802.6,525.7 802.9,449.4 803.1,429.8 803.4,548 803.7,581.9 803.9,489 804.2,449.7 804.5,450.3 804.7,538.1 805,548.5 805.3,512.4 805.6,487 805.8,596 806.1,537.5 806.4,428.5 806.6,545.5 806.9,479.5 807.2,496.3 807.4,531.5 807.7,560.5 808,527.4 808.3,536 808.5,474.5 808.8,463.5 809.1,508 809.3,528 809.6,501.4 809.9,514.9 810.2,519.4 810.4,415.4 810.7,506.4 811,513.5 811.2,512.9 811.5,522.8 811.8,510.4 812,582 812.3,492.5 812.6,533.1 812.9,529.8 813.1,498.7 813.4,481.1 813.7,491.7 813.9,503.7 814.2,475.1 814.5,519.8 814.7,564 815,467.5 815.3,470.9 815.6,527.2 815.8,546.7 816.1,519.5 816.4,451.5 816.6,537.7 816.9,582.4 817.2,530.2 817.4,455.9 817.7,499.8 818,541.3 818.3,572.6 818.5,529.1 818.8,439.3 819.1,491.4 819.3,567.5 819.6,482.2 819.9,598.9 820.1,417.1 820.4,509.4 820.7,502.5 821,475.7 821.2,450.2 821.5,481.7 821.8,558.2 822,555 822.3,489.7 822.6,479.8 822.8,493 823.1,522.1 823.4,511.4 823.7,555.9 823.9,513.7 824.2,458 824.5,440.3 824.7,496.3 825,551.2 825.3,568.5 825.5,488.3 825.8,464.5 826.1,522.8 826.4,528.2 826.6,474.9 826.9,470.4 827.2,430.8 827.4,560.6 827.7,591.2 828,476.9 828.2,490.9 828.5,426.5 828.8,519.9 829.1,522.2 829.3,485 829.6,485.9 829.9,512.2 830.1,507.4 830.4,494.5 830.7,508.9 830.9,507 831.2,504.8 831.5,506.7 831.8,512.3 832,492.2 832.3,499.4 832.6,527 832.8,509.7 833.1,525.3 833.4,503 833.6,477.5 833.9,475.3 834.2,520.3 834.5,549.8 834.7,584.2 835,444.7 835.3,493.9 835.5,559.8 835.8,390.9 836.1,549.8 836.3,497.5 836.6,576.2 836.9,571.1 837.2,548.7 837.4,428.4 837.7,435.6 838,416.9 838.2,497.4 838.5,462.2 838.8,588.1 839,560.2 839.3,542.2 839.6,481.2 839.9,474.1 840.1,546.6 840.4,499.7 840.7,451.9 840.9,539.3 841.2,408.7 841.5,495.3 841.7,508.4 842,447 842.3,534.7 842.6,566.7 842.8,503.9 843.1,444.3 843.4,460.9 843.6,584.9 843.9,466.2 844.2,400.4 844.4,423.2 844.7,623.9 845,594.5 845.3,549.9 845.5,434.4 845.8,481 846.1,556.8 846.3,567.3 846.6,403.4 846.9,508.1 847.2,452.2 847.4,528.3 847.7,599.1 848,533.2 848.2,448.9 848.5,565.5 848.8,506.7 849,475.4 849.3,496.3 849.6,495.8 849.9,536.3 850.1,527.1 850.4,455.3 850.7,389.3 850.9,461.1 851.2,558.9 851.5,481.1 851.7,419.5 852,591.2 852.3,590.4 852.6,465.5 852.8,451.9 853.1,427.1 853.4,457.9 853.6,556.9 853.9,543.5 854.2,550.4 854.4,535.7 854.7,449.7 855,409.8 855.3,521.4 855.5,414.7 855.8,508 856.1,508.1 856.3,459 856.6,489.6 856.9,524.1 857.1,481.4 857.4,578.9 857.7,448.8 858,532.8 858.2,578.7 858.5,463.5 858.8,525.4 859,597.5 859.3,450 859.6,452.5 859.8,483.2 860.1,510.2 860.4,528.8 860.7,441.6 860.9,499.3 861.2,466.4 861.5,598.4 861.7,559.7 862,519.3 862.3,471.3 862.5,531.8 862.8,552 863.1,451.3 863.4,464 863.6,493.8 863.9,517.9 864.2,541 864.4,538.1 864.7,481.5 865,482.7 865.2,539.9 865.5,545.6 865.8,441.9 866.1,443.2 866.3,526.6 866.6,558.4 866.9,518.5 867.1,421 867.4,511.9 867.7,472.5 867.9,531.2 868.2,587.1 868.5,420.5 868.8,441.8 869,475.4 869.3,519.7 869.6,543.4 869.8,442.9 870.1,391.4 870.4,514.5 870.6,522.5 870.9,593.7 871.2,610.9 871.5,477 871.7,522.9 872,500.2 872.3,566.1 872.5,489.5 872.8,448.1 873.1,432.3 873.3,492.8 873.6,538.5 873.9,547 874.2,494.3 874.4,618.5 874.7,499.5 875,492.8 875.2,524.7 875.5,515.3 875.8,482.2 876,622.3 876.3,552.3 876.6,480.6 876.9,480.2 877.1,508.6 877.4,521 877.7,530.7 877.9,495.4 878.2,502 878.5,532.5 878.7,509.5 879,478.8 879.3,491.2 879.6,514.9 879.8,522.6 880.1,508.9 880.4,502.1 880.6,518.9 880.9,503 881.2,498.6 881.5,520.2 881.7,498.5 882,480.3 882.3,522.1 882.5,531.1 882.8,510.4 883.1,476 883.3,527 883.6,520.8 883.9,486.6 884.2,469.6 884.4,560.7 884.7,557.1 885,482.2 885.2,445.8 885.5,512.3 885.8,524.4 886,488.7 886.3,530.6 886.6,525.8 886.9,512.4 887.1,510.4 887.4,385.7 887.7,482.5 887.9,478.5 888.2,569.7 888.5,507.3 888.7,487 889,547.8 889.3,486.9 889.6,481.2 889.8,505.2 890.1,527.6 890.4,619.4 890.6,556.1 890.9,483.9 891.2,501.4 891.4,519.8 891.7,515.3 892,534.6 892.3,546.7 892.5,502.3 892.8,451 893.1,523.3 893.3,555.2 893.6,502 893.9,495.6 894.1,475.7 894.4,498.3 894.7,463.4 895,501.5 895.2,476.7 895.5,522.3 895.8,520.9 896,528.3 896.3,512 896.6,504 896.8,488.1 897.1,473.1 897.4,519.4 897.7,557.2 897.9,506 898.2,480 898.5,516.4 898.7,501.6 899,468.7 899.3,526.4 899.5,554.2 899.8,576.8 900.1,596.2 900.4,436.3 900.6,532.1 900.9,522.3 901.2,466.1 901.4,467.1 901.7,498.2 902,531.4 902.2,469.8 902.5,447.9 902.8,504.1 903.1,541.4 903.3,459.3 903.6,433.8 903.9,546.5 904.1,524.3 904.4,482.4 904.7,426.8 904.9,518.8 905.2,572.4 905.5,537.7 905.8,446.6 906,514.6 906.3,521 906.6,516.8 906.8,467.7 907.1,462.3 907.4,414.5 907.6,565.3 907.9,618.5 908.2,535.9 908.5,426.6 908.7,489.3 909,578.7 909.3,526.4 909.5,432.6 909.8,417.7 910.1,556.9 910.3,517.9 910.6,552.6 910.9,416.3 911.2,407 911.4,557.4 911.7,593.9 912,406.9 912.2,400.5 912.5,561.4 912.8,594.4 913,517 913.3,427.3 913.6,608.2 913.9,612 914.1,418.7 914.4,411.3 914.7,520.1 914.9,571 915.2,456.3 915.5,444.3 915.7,534.6 916,510.5 916.3,531.3 916.6,436.2 916.8,532 917.1,554.1 917.4,468.7 917.6,492.1 917.9,496.3 918.2,483.2 918.5,495.1 918.7,520.3 919,487.3 919.3,488.7 919.5,530.6 919.8,485.4 920.1,481.6 920.3,502.8 920.6,499.6 920.9,519 921.2,485.8 921.4,528.7 921.7,546.6 922,507 922.2,427.4 922.5,470.8 922.8,519.8 923,544.8 923.3,474.7 923.6,567.1 923.9,543.3 924.1,444 924.4,501.7 924.7,604 924.9,594.1 925.2,416.1 925.5,406.5 925.7,569.2 926,605.1 926.3,591.8 926.6,469.2 926.8,461.3 927.1,458.1 927.4,585.6 927.6,484.3 927.9,445.9 928.2,550.4 928.4,611.1 928.7,495.6 929,460.1 929.3,540.2 929.5,561.4 929.8,490.1 930.1,475.8 930.3,493 930.6,491.5 930.9,557.1 931.1,520.9 931.4,473.2 931.7,492.3 932,549.9 932.2,499.4 932.5,436.6 932.8,505.6 933,575.9 933.3,486.2 933.6,453.7 933.8,506.4 934.1,530.3 934.4,528.9 934.7,494.8 934.9,524.4 935.2,582.7 935.5,464.1 935.7,447.4 936,524 936.3,492.5 936.5,501.4 936.8,481.2 937.1,420.2 937.4,519.9 937.6,532.6 937.9,499.2 938.2,493.7 938.4,607.3 938.7,527.7 939,514.4 939.2,493.1 939.5,497.2 939.8,597.2 940.1,509.3 940.3,526.3 940.6,510.6 940.9,501 941.1,524 941.4,510.5 941.7,502.2 941.9,519.5 942.2,525.9 942.5,499.9 942.8,521.3 943,512.9 943.3,509.8 943.6,502.1 943.8,485.7 944.1,496.8 944.4,517.8 944.6,498.6 944.9,480.5 945.2,491.1 945.5,493.3 945.7,513.6 946,489.7 946.3,502.2 946.5,539.3 946.8,510.7 947.1,536 947.3,512.7 947.6,409.8 947.9,448 948.2,609.3 948.4,458 948.7,421.6 949,560.2 949.2,579.1 949.5,435.3 949.8,453.4 950,537.7 950.3,557.6 950.6,535.1 950.9,438.8 951.1,512.9 951.4,531.2 951.7,431.5 951.9,456.6 952.2,558.8 952.5,510.3 952.7,421.6 953,517.3 953.3,522.4 953.6,540.7 953.8,547.2 954.1,508.5 954.4,519 954.6,513 954.9,503.7 955.2,500.7 955.5,489.3 955.7,516.9 956,521.8 956.3,507 956.5,507.8 956.8,483 957.1,514.8 957.3,539.2 957.6,508.6 957.9,421.9 958.2,502.7 958.4,592.6 958.7,464 959,461.7 959.2,599.7 959.5,486.1 959.8,412.6 960,578.3 960.3,606.2 960.6,479.4 960.9,467.1 961.1,592.4 961.4,593.8 961.7,407.2 961.9,409.7 962.2,602.2 962.5,591.9 962.7,441.5 963,462 963.3,545.1 963.6,439.8 963.8,518.1 964.1,585.2 964.4,517.3 964.6,497.9 964.9,535 965.2,551.2 965.4,570.8 965.7,419.9 966,623.7 966.3,465.3 966.5,592.6 966.8,593.2 967.1,464 967.3,466.5 967.6,462.6 967.9,474.9 968.1,411.7 968.4,588.1 968.7,605.2 969,437.6 969.2,441.1 969.5,542.1 969.8,438.1 970,569.5 970.3,525.6 970.6,617.2 970.8,498.4 971.1,491 971.4,511 971.7,500.4 971.9,477.3 972.2,479.7 972.5,570.3 972.7,556 973,402.5 973.3,504.2 973.5,515 973.8,434.7 974.1,523.5 974.4,566.4 974.6,515.2 974.9,429 975.2,402.7 975.4,544.8 975.7,472.3 976,459.1 976.2,591.9 976.5,591.1 976.8,433.4 977.1,527.3 977.3,570.1 977.6,577.3 977.9,462.2 978.1,466.2 978.4,586.2 978.7,552.5 978.9,512.6 979.2,510.6 979.5,463.5 979.8,493.9 980,521 980.3,468.6 980.6,494.9 980.8,488.1 981.1,502 981.4,511.5 981.6,523.7 981.9,532.2 982.2,530.6 982.5,521.9 982.7,487.5 983,491.2 983.3,412.7 983.5,496.9 983.8,505.5 984.1,423.7 984.3,528.6 984.6,514.8 984.9,490.6 985.2,497.8 985.4,521.8 985.7,502.2 986,499.3 986.2,508.6 986.5,501.6 986.8,501.5 987,513.2 987.3,521.7 987.6,493 987.9,520.8 988.1,523 988.4,520.7 988.7,603 988.9,476.4 989.2,515.8 989.5,548.7 989.8,511.2 990,424.5 990.3,442.6 990.6,558.8 990.8,581.1 991.1,509.2 991.4,446.9 991.6,516.5 991.9,555.1 992.2,563.6 992.5,559.7 992.7,541.7 993,472.8 993.3,535.9 993.5,427.1 993.8,459.7 994.1,527.9 994.3,415.3 994.6,541.6 994.9,561.5 995.2,506.6 995.4,463.3 995.7,487.3 996,482.4 996.2,479.1 996.5,490.9 996.8,492.5 997,507.9 997.3,491.9 997.6,512.8 997.9,530.7 998.1,472.9 998.4,546.3 998.7,478.8 998.9,428.5 999.2,591.2 999.5,532.6 999.7,490.6 1000,521.9 1000.3,502.8 1000.6,479.4 1000.8,472 1001.1,526.9 1001.4,523 1001.6,515.1 1001.9,460.3 1002.2,496.5 1002.4,497.7 1002.7,535.1 1003,506.9 1003.3,524.2 1003.5,537.1 1003.8,450.2 1004.1,484.9 1004.3,543.2 1004.6,479.5 1004.9,523.5 1005.1,422.5 1005.4,530.5 1005.7,582.8 1006,408.3 1006.2,551.1 1006.5,472.9 1006.8,449.9 1007,477.8 1007.3,582.8 1007.6,516.3 1007.8,531.7 1008.1,447.1 1008.4,496.2 1008.7,566.1 1008.9,540.9 1009.2,481 1009.5,444.3 1009.7,492.9 1010,561.9 1010.3,546.4 1010.5,514.8 1010.8,470.2 1011.1,489.3 1011.4,534.7 1011.6,532.8 1011.9,499.4 1012.2,498.6 1012.4,504.3 1012.7,511.6 1013,504.5 1013.2,495.4 1013.5,496.1 1013.8,513.6 1014.1,506.1 1014.3,507.9 1014.6,518.5 1014.9,504.8 1015.1,487.9 1015.4,491.6 1015.7,517 1015.9,537.9 1016.2,499 1016.5,487 1016.8,499.2 1017,500.1 1017.3,519.8 1017.6,529.3 1017.8,510.1 1018.1,510.9 1018.4,537.4 1018.6,499.7 1018.9,513.8 1019.2,522.3 1019.5,516.9 1019.7,520.9 1020,484.7 1020.3,511 1020.5,518.6 1020.8,490.2 1021.1,502.7 1021.3,536.4 1021.6,519.5 1021.9,498.6 1022.2,486.4 1022.4,476.7 1022.7,513.5 1023,533.7 1023.2,463.7 1023.5,505.7 1023.8,527.5 1024,491.1 1024.3,494 1024.6,525.4 1024.9,509.2 1025.1,619.2 1025.4,465.3 1025.7,579 1025.9,526.5 1026.2,426.2 1026.5,417.8 1026.8,504.3 1027,559.5 1027.3,419.7 1027.6,438.7 1027.8,525.2 1028.1,570.6 1028.4,502.4 1028.6,440.2 1028.9,544.1 1029.2,591.2 1029.5,477.8 1029.7,503.5 1030,570.9 1030.3,526.9 1030.5,479.7 1030.8,491.8 1031.1,514.4 1031.3,496.7 1031.6,506.8 1031.9,538.5 1032.2,579.6 1032.4,468.2 1032.7,595.9 1033,505.2 1033.2,544.7 1033.5,536.1 1033.8,476.3 1034,489 1034.3,399.6 1034.6,495.6 1034.9,516 1035.1,528 1035.4,459.2 1035.7,513.7 1035.9,530.7 1036.2,481.4 1036.5,493.3 1036.7,548.4 1037,529.5 1037.3,489.3 1037.6,523.4 1037.8,491.4 1038.1,490.1 1038.4,500.4 1038.6,512.1 1038.9,406.7 1039.2,514.1 1039.4,546.3 1039.7,492.5 1040,483.8 1040.3,476.6 1040.5,545 1040.8,527.1 1041.1,440.1 1041.3,525.5 1041.6,584.8 1041.9,500.7 1042.1,413.7 1042.4,552.5 1042.7,588.4 1043,503.5 1043.2,478.5 1043.5,527.2 1043.8,460 1044,488.4 1044.3,586.7 1044.6,559.1 1044.8,466.8 1045.1,538.5 1045.4,554.3 1045.7,514.2 1045.9,546.6 1046.2,464.2 1046.5,524.6 1046.7,533.2 1047,506.9 1047.3,509.6 1047.5,475.3 1047.8,598.4 1048.1,558.8 1048.4,474.9 1048.6,450.8 1048.9,568.2 1049.2,597.3 1049.4,445.1 1049.7,441 1050,595.3 1050.2,539.8 1050.5,531 1050.8,538.1 1051.1,549.4 1051.3,587.6 1051.6,467.3 1051.9,403.4 1052.1,482.2 1052.4,574.1 1052.7,534.2 1052.9,485.1 1053.2,493.1 1053.5,505.8 1053.8,399.3 1054,508.8 1054.3,504.2 1054.6,500.7 1054.8,499.2 1055.1,499.4 1055.4,517.1 1055.6,524.4 1055.9,486.2 1056.2,497 1056.5,529 1056.7,504 1057,482.6 1057.3,467.5 1057.5,551.3 1057.8,502 1058.1,496.6 1058.3,492.3 1058.6,621.4 1058.9,521.7 1059.2,504.3 1059.4,459.1 1059.7,527.4 1060,511.7 1060.2,519.6 1060.5,543.5 1060.8,492.3 1061,446.4 1061.3,511.5 1061.6,523.2 1061.9,496.9 1062.1,500 1062.4,409.2 1062.7,505.5 1062.9,501.7 1063.2,540 1063.5,517.5 1063.8,473 1064,507.9 1064.3,554.5 1064.6,500.2 1064.8,477.3 1065.1,509.8 1065.4,519.6 1065.6,510 1065.9,495.6 1066.2,491.8 1066.5,507.9 1066.7,516.4 1067,512.8 1067.3,502.8 1067.5,509.1 1067.8,494.7 1068.1,625.4 1068.3,523.8 1068.6,495.9 1068.9,491.9 1069.2,506.9 1069.4,518.6 1069.7,611.3 1070,515.8 1070.2,524.8 1070.5,518.2 1070.8,490.3 1071,474.9 1071.3,522.4 1071.6,543.9 1071.9,506.2 1072.1,437.8 1072.4,490.1 1072.7,549.9 1072.9,539.3 1073.2,466.5 1073.5,443.2 1073.7,514.3 1074,566.1 1074.3,466.9 1074.6,468.3 1074.8,469.4 1075.1,551.2 1075.4,396.5 1075.6,477 1075.9,534 1076.2,521.9 1076.4,477.5 1076.7,497.2 1077,510 1077.3,389.9 1077.5,526.4 1077.8,486.5 1078.1,514.1 1078.3,531.4 1078.6,533.4 1078.9,463.4 1079.1,504.8 1079.4,557.4 1079.7,602.7 1080,503.4 1080.2,373.7 1080.5,596.9 1080.8,605.9 1081,453.6 1081.3,565.2 1081.6,394.9 1081.8,429.4 1082.1,461.6 1082.4,528.6 1082.7,464.9 1082.9,508.9 1083.2,474 1083.5,576.2 1083.7,583 1084,404 1084.3,395.7 1084.5,498 1084.8,625.1 1085.1,555.1 1085.4,452.8 1085.6,390.2 1085.9,602.7 1086.2,625.3 1086.4,512.9 1086.7,405.2 1087,526.4 1087.2,577.7 1087.5,642.7 1087.8,470.7 1088.1,568.1 1088.3,557.6 1088.6,452.5 1088.9,377.7 1089.1,497.3 1089.4,496 1089.7,494.4 1089.9,509.4 1090.2,403.7 1090.5,509.1 1090.8,480.8 1091,491.6 1091.3,509.5 1091.6,520.4 1091.8,514.1 1092.1,502.8 1092.4,382.2 1092.6,518.2 1092.9,518.5 1093.2,498.4 1093.5,482.8 1093.7,480.4 1094,506.8 1094.3,528.2 1094.5,490.9 1094.8,437.6 1095.1,499.5 1095.3,517.5 1095.6,487.2 1095.9,481.2 1096.2,544 1096.4,470.5 1096.7,528.6 1097,586.2 1097.2,466.8 1097.5,402.1 1097.8,436.3 1098.1,502.4 1098.3,558.6 1098.6,514.6 1098.9,413.7 1099.1,396.1 1099.4,625.4 1099.7,532.9 1099.9,403 1100.2,470.3 1100.5,601.7 1100.8,572.9 1101,641.2 1101.3,442.2 1101.6,553.1 1101.8,554.7 1102.1,578.4 1102.4,419.8 1102.6,422.3 1102.9,348.2 1103.2,535.3 1103.5,475.2 1103.7,524.6 1104,516 1104.3,465.7 1104.5,447.7 1104.8,508.7 1105.1,499.6 1105.3,480.3 1105.6,483.6 1105.9,486.1 1106.2,549.6 1106.4,529.1 1106.7,455 1107,516.6 1107.2,542 1107.5,479.9 1107.8,501.6 1108,514.1 1108.3,431.6 1108.6,504.3 1108.9,497.7 1109.1,499 1109.4,515.8 1109.7,610.1 1109.9,506.5 1110.2,515 1110.5,508.2 1110.7,500.1 1111,513.1 1111.3,509.2 1111.6,595.3 1111.8,515.4 1112.1,505.8 1112.4,516.6 1112.6,510.4 1112.9,492.6 1113.2,526.5 1113.4,442.4 1113.7,545.4 1114,519.1 1114.3,458 1114.5,518.6 1114.8,547.8 1115.1,506.5 1115.3,459.2 1115.6,583.8 1115.9,580.4 1116.1,552.1 1116.4,485.7 1116.7,565.7 1117,513.3 1117.2,493.4 1117.5,477.4 1117.8,515.9 1118,469.1 1118.3,529.2 1118.6,583 1118.8,509.1 1119.1,463.2 1119.4,507.5 1119.7,476.5 1119.9,544.2 1120.2,499.3 1120.5,596.6 1120.7,471.6 1121,570.4 1121.3,529.5 1121.5,488.2 1121.8,500 1122.1,537.5 1122.4,523.8 1122.6,469 1122.9,455.4 1123.2,505.2 1123.4,562 1123.7,484.2 1124,501 1124.2,433.2 1124.5,489.1 1124.8,507.2 1125.1,503.6 1125.3,510.2 1125.6,520.4 1125.9,505.2 1126.1,505.2 1126.4,494.6 1126.7,576.3 1126.9,500.6 1127.2,524.6 1127.5,492.5 1127.8,482.7 1128,507 1128.3,523.6 1128.6,524.6 1128.8,493.6 1129.1,467.7 1129.4,462.1 1129.6,507.2 1129.9,535.1 1130.2,527.7 1130.5,420 1130.7,598.9 1131,477.4 1131.3,534.4 1131.5,569.7 1131.8,558.1 1132.1,452.1 1132.3,452.6 1132.6,495.2 1132.9,533.9 1133.2,539.7 1133.4,552.9 1133.7,527.3 1134,556.7 1134.2,492 1134.5,461.4 1134.8,464.1 1135.1,574.2 1135.3,432.3 1135.6,450.3 1135.9,446.2 1136.1,580.6 1136.4,573.2 1136.7,454.2 1136.9,468.9 1137.2,522.2 1137.5,530.7 1137.8,526.5 1138,482.7 1138.3,498.6 1138.6,478.8 1138.8,551.7 1139.1,532.8 1139.4,505.9 1139.6,501.4 1139.9,498.8 1140.2,496.8 1140.5,544.5 1140.7,497.6 1141,479 1141.3,501.1 1141.5,521.2 1141.8,497.9 1142.1,491.5 1142.3,538.3 1142.6,531.2 1142.9,494.5 1143.2,497.3 1143.4,522.6 1143.7,503 1144,520.9 1144.2,527.6 1144.5,523.9 1144.8,497.7 1145,486 1145.3,533.1 1145.6,513.8 1145.9,507.3 1146.1,465.6 1146.4,438.8 1146.7,543.4 1146.9,445 1147.2,488.2 1147.5,575.8 1147.7,562.2 1148,443.8 1148.3,485.7 1148.6,499.4 1148.8,578.2 1149.1,432.8 1149.4,533.5 1149.6,593.6 1149.9,443.9 1150.2,563.6 1150.4,581.7 1150.7,548.9 1151,595.6 1151.3,431 1151.5,556.9 1151.8,544.9 1152.1,501 1152.3,452.5 1152.6,561.4 1152.9,429.7 1153.1,532.1 1153.4,538.5 1153.7,482.4 1154,497.3 1154.2,523.3 1154.5,574.1 1154.8,488.7 1155,458.2 1155.3,480.9 1155.6,560.5 1155.8,532.3 1156.1,496.7 1156.4,508.8 1156.7,445.2 1156.9,535.7 1157.2,492 1157.5,436.1 1157.7,427.2 1158,546.4 1158.3,569 1158.5,477.1 1158.8,481.9 1159.1,445.5 1159.4,440.3 1159.6,583.6 1159.9,566.8 1160.2,433.5 1160.4,497.6 1160.7,574 1161,521.8 1161.2,460.3 1161.5,501 1161.8,541.8 1162.1,445.6 1162.3,569.2 1162.6,567.4 1162.9,524.3 1163.1,462.4 1163.4,512.2 1163.7,513.8 1163.9,505.1 1164.2,439.5 1164.5,545.3 1164.8,565.8 1165,464.2 1165.3,476.3 1165.6,524.6 1165.8,568.8 1166.1,479.2 1166.4,466.5 1166.6,496.5 1166.9,559.1 1167.2,540.3 1167.5,511.8 1167.7,443.8 1168,555.7 1168.3,540.4 1168.5,587.2 1168.8,451.5 1169.1,426.4 1169.4,564.6 1169.6,497.6 1169.9,523.7 1170.2,482.2 1170.4,435.1 1170.7,541.1 1171,530 1171.2,476.1 1171.5,535.9 1171.8,484.4 1172.1,506.9 1172.3,486.3 1172.6,501.9 1172.9,482.4 1173.1,528.2 1173.4,432.3 1173.7,495.5 1173.9,518.7 1174.2,497.1 1174.5,437.5 1174.8,535.9 1175,521 1175.3,518.2 1175.6,509.3 1175.8,503.6 1176.1,466.5 1176.4,509.2 1176.6,554 1176.9,487.2 1177.2,493 1177.5,539.1 1177.7,541.6 1178,467.7 1178.3,490.9 1178.5,501.3 1178.8,524.3 1179.1,522.3 1179.3,602.9 1179.6,498.4 1179.9,522.5 1180.2,517 1180.4,511 1180.7,487.3 1181,520.3 1181.2,510 1181.5,518.3 1181.8,459.5 1182,478.9 1182.3,512.8 1182.6,560.5 1182.9,502.7 1183.1,488.3 1183.4,528.9 1183.7,537.7 1183.9,483.9 1184.2,490.5 1184.5,523.1 1184.7,523 1185,509.1 1185.3,505.6 1185.6,508.4 1185.8,519.3 1186.1,518 1186.4,528.8 1186.6,502.2 1186.9,480.1 1187.2,517.9 1187.4,497 1187.7,517.9 1188,514.7 1188.3,473.8 1188.5,493 1188.8,547.2 1189.1,511.5 1189.3,494.1 1189.6,466.7 1189.9,482.4 1190.1,543.6 1190.4,505.7 1190.7,426.7 1191,443.1 1191.2,523.6 1191.5,564.2 1191.8,545.7 1192,528 1192.3,436.7 1192.6,557.1 1192.8,536 1193.1,425.5 1193.4,564.5 1193.7,551.4 1193.9,529.1 1194.2,495 1194.5,429.1 1194.7,539.3 1195,553.9 1195.3,507.7 1195.5,589.9 1195.8,512.9 1196.1,544.4 1196.4,492.2 1196.6,510 1196.9,553.4 1197.2,509 1197.4,434 1197.7,511.7 1198,560.3 1198.2,542.4 1198.5,498 1198.8,400.6 1199.1,506.3 1199.3,518.8 1199.6,529.2 1199.9,481.3 1200.1,528.3 1200.4,501.7 1200.7,499.1 1200.9,535.1 1201.2,517.3 1201.5,499.5 1201.8,489.9 1202,518.9 1202.3,454.5 1202.6,457 1202.8,491.2 1203.1,574.7 1203.4,541.7 1203.6,432.5 1203.9,453.4 1204.2,555.9 1204.5,552.1 1204.7,440.5 1205,566.1 1205.3,584.7 1205.5,557.8 1205.8,423.5 1206.1,546.2 1206.4,580.8 1206.6,410.4 1206.9,464.3 1207.2,582.3 1207.4,534.6 1207.7,456.5 1208,418.9 1208.2,575.6 1208.5,582 1208.8,421.4 1209.1,414 1209.3,567.5 1209.6,608.4 1209.9,441.4 1210.1,441.9 1210.4,590.7 1210.7,595.8 1210.9,452.2 1211.2,437.8 1211.5,593.5 1211.8,586.1 1212,442.2 1212.3,457 1212.6,435.6 1212.8,409.7 1213.1,539.8 1213.4,469.1 1213.6,498.3 1213.9,558.5 1214.2,537.8 1214.5,479.1 1214.7,504.3 1215,457.3 1215.3,520.3 1215.5,511.8 1215.8,474.7 1216.1,578.2 1216.3,552.6 1216.6,607.5 1216.9,455.5 1217.2,496.9 1217.4,537.5 1217.7,573.1 1218,534.6 1218.2,468.3 1218.5,478 1218.8,498.1 1219,535 1219.3,507.9 1219.6,608.2 1219.9,484.5 1220.1,466.2 1220.4,517.7 1220.7,497.2 1220.9,509.5 1221.2,524.2 1221.5,514 1221.7,463.5 1222,526.2 1222.3,579.5 1222.6,504.7 1222.8,498.9 1223.1,519.3 1223.4,505.8 1223.6,493.7 1223.9,508.2 1224.2,523.5 1224.4,506.5 1224.7,472.5 1225,539.8 1225.3,497.2 1225.5,489.8 1225.8,478.5 1226.1,548.6 1226.3,446.5 1226.6,457.8 1226.9,451.9 1227.1,562.2 1227.4,403.2 1227.7,430 1228,427.5 1228.2,529.1 1228.5,487.1 1228.8,465.3 1229,530 1229.3,589.3 1229.6,586.2 1229.8,442.4 1230.1,439.2 1230.4,557.7 1230.7,530.8 1230.9,488 1231.2,491.1 1231.5,489.2 1231.7,545 1232,510.8 1232.3,477.2 1232.5,504 1232.8,517.1 1233.1,525 1233.4,500.8 1233.6,488.8 1233.9,497.7 1234.2,522.1 1234.4,503.4 1234.7,492.8 1235,497.6 1235.2,514.7 1235.5,502.8 1235.8,495.7 1236.1,460.4 1236.3,513.9 1236.6,512 1236.9,501.7 1237.1,610.5 1237.4,498.4 1237.7,451.7 1237.9,480.1 1238.2,513.4 1238.5,544.1 1238.8,496.7 1239,523.6 1239.3,464.4 1239.6,454.4 1239.8,548.4 1240.1,549.1 1240.4,518.7 1240.6,501.2 1240.9,509.9 1241.2,541 1241.5,521.5 1241.7,466.1 1242,500.3 1242.3,505.5 1242.5,515.6 1242.8,502.6 1243.1,549.4 1243.4,474.1 1243.6,523.6 1243.9,539.2 1244.2,548.3 1244.4,474.9 1244.7,516.7 1245,416.4 1245.2,451.8 1245.5,491.6 1245.8,571.8 1246.1,499.4 1246.3,466.4 1246.6,493.3 1246.9,425.9 1247.1,493.5 1247.4,479.6 1247.7,587 1247.9,545.7 1248.2,509.3 1248.5,464.2 1248.8,542.4 1249,534.2 1249.3,534.1 1249.6,461.6 1249.8,439.6 1250.1,497.3 1250.4,560.2 1250.6,490.8 1250.9,436.2 1251.2,450.8 1251.5,496.2 1251.7,498.9 1252,544.7 1252.3,516.8 1252.5,394.6 1252.8,492.8 1253.1,577.7 1253.3,525.8 1253.6,396.6 1253.9,487.6 1254.2,503.8 1254.4,549.6 1254.7,531.1 1255,477.3 1255.2,516.4 1255.5,527 1255.8,530.6 1256,521.6 1256.3,638.2 1256.6,494.3 1256.9,558.9 1257.1,379.9 1257.4,481.2 1257.7,536.4 1257.9,617.5 1258.2,405.4 1258.5,457 1258.7,542.3 1259,552.1 1259.3,454.9 1259.6,430.9 1259.8,575.1 1260.1,545.4 1260.4,410.8 1260.6,408 1260.9,550.3 1261.2,612.8 1261.4,510.6 1261.7,473 1262,471.3 1262.3,563.1 1262.5,483.3 1262.8,524.2 1263.1,539.7 1263.3,503 1263.6,523.7 1263.9,478.3 1264.1,504.8 1264.4,545.9 1264.7,504.8 1265,482.7 1265.2,599.5 1265.5,535 1265.8,472.6 1266,462.3 1266.3,562 1266.6,620.4 1266.8,442.7 1267.1,456.2 1267.4,556.7 1267.7,566.7 1267.9,482.4 1268.2,487.3 1268.5,526.1 1268.7,540.9 1269,508.1 1269.3,610.2 1269.5,501.1 1269.8,498.2 1270.1,514.4 1270.4,525.7 1270.6,460.6 1270.9,468.6 1271.2,512.1 1271.4,541 1271.7,494.2 1272,490.2 1272.2,500 1272.5,509.2 1272.8,475.5 1273.1,500.6 1273.3,422.2 1273.6,497.9 1273.9,471.8 1274.1,486 1274.4,564.2 1274.7,543.9 1274.9,482.4 1275.2,513.5 1275.5,519.1 1275.8,594.7 1276,466.6 1276.3,486.6 1276.6,529.1 1276.8,468.6 1277.1,476.6 1277.4,589.5 1277.7,551.6 1277.9,462.9 1278.2,457.9 1278.5,547 1278.7,554.6 1279,436.9 1279.3,505.5 1279.5,585.5 1279.8,508.2 1280.1,436.5 1280.4,501.4 1280.6,551 1280.9,539 1281.2,539.2 1281.4,524.3 1281.7,534.8 1282,454.3 1282.2,434.5 1282.5,478.8 1282.8,517.1 1283.1,559.3 1283.3,500.1 1283.6,466.5 1283.9,452.6 1284.1,585.1 1284.4,567.3 1284.7,441.3 1284.9,494.8 1285.2,547.2 1285.5,536.6 1285.8,430.9 1286,430.8 1286.3,595.2 1286.6,595.4 1286.8,475.8 1287.1,431.5 1287.4,525.4 1287.6,579.4 1287.9,470.1 1288.2,428.8 1288.5,510 1288.7,570.7 1289,512.3 1289.3,513.8 1289.5,466.4 1289.8,463 1290.1,559.8 1290.3,474.5 1290.6,473.8 1290.9,484.8 1291.2,525.1 1291.4,531.7 1291.7,464.5 1292,538.8 1292.2,549.3 1292.5,556.1 1292.8,462.5 1293,485 1293.3,545.5 1293.6,547.3 1293.9,464 1294.1,471.9 1294.4,408.6 1294.7,540.4 1294.9,452.2 1295.2,452.3 1295.5,552 1295.7,433.1 1296,472.9 1296.3,492.5 1296.6,515.8 1296.8,544.9 1297.1,454.5 1297.4,441.3 1297.6,530.8 1297.9,551.7 1298.2,494.9 1298.4,495.3 1298.7,499.9 1299,512 1299.3,411.9 1299.5,513.4 1299.8,506.5 1300.1,510.2 1300.3,510.3 1300.6,499.8 1300.9,507.9 1301.1,528.7 1301.4,491 1301.7,593 1302,493.1 1302.2,508.4 1302.5,505.2 1302.8,526.2 1303,508.3 1303.3,505.5 1303.6,508.1 1303.8,493.9 1304.1,577.2 1304.4,489 1304.7,545.9 1304.9,556.7 1305.2,474.2 1305.5,456.8 1305.7,480.7 1306,476.2 1306.3,502.2 1306.5,601.5 1306.8,501.1 1307.1,506.5 1307.4,510.9 1307.6,505.5 1307.9,511.4 1308.2,508.7 1308.4,498.2 1308.7,500.3 1309,501.1 1309.2,513.5 1309.5,513.6 1309.8,498.4 1310.1,510.7 1310.3,528.6 1310.6,494.7 1310.9,609.6 1311.1,600.6 1311.4,511.2 1311.7,529 1311.9,391.8 1312.2,461.5 1312.5,598.2 1312.8,560.4 1313,432.4 1313.3,528.3" fill="none" stroke="#000" stroke-width="1.0" stroke-linejoin="miter"/>
<polyline points="341.3,506.6 341.6,506.7 341.8,506.8 342.1,506.4 342.4,506 342.7,505.6 342.9,505.1 343.2,504.5 343.5,504.2 343.7,504.1 344,504.1 344.3,504.2 344.5,504.3 344.8,504.7 345.1,505.1 345.4,505.2 345.6,505.4 345.9,505.6 346.2,505.9 346.4,506.1 346.7,506.2 347,506.4 347.2,506.6 347.5,506.7 347.8,506.3 348.1,505.8 348.3,505.6 348.6,505.4 348.9,505.5 349.1,505.7 349.4,505.9 349.7,505.8 349.9,505.5 350.2,505.1 350.5,504.8 350.8,504.6 351,504.5 351.3,504.5 351.6,504.6 351.8,504.9 352.1,505.1 352.4,505.5 352.6,505.8 352.9,506.2 353.2,506.7 353.5,507 353.7,507.5 354,507.6 354.3,507.5 354.5,507.3 354.8,507.1 355.1,507 355.3,506.9 355.6,507.1 355.9,507.1 356.2,507 356.4,506.5 356.7,506 357,505.3 357.2,505 357.5,505.1 357.8,505.2 358,505.3 358.3,505.4 358.6,505.6 358.9,505.6 359.1,505.8 359.4,505.8 359.7,505.7 359.9,505.7 360.2,505.8 360.5,506 360.7,506.3 361,506.6 361.3,506.7 361.6,506.7 361.8,506.6 362.1,506.7 362.4,506.6 362.6,506.7 362.9,506.7 363.2,506.7 363.4,506.7 363.7,506.8 364,506.8 364.3,506.7 364.5,506.5 364.8,506.3 365.1,506.3 365.3,506.3 365.6,506.2 365.9,506.4 366.1,506.6 366.4,506.8 366.7,507.1 367,507.3 367.2,507.5 367.5,507.6 367.8,507.5 368,507.3 368.3,507 368.6,506.8 368.8,506.5 369.1,506.4 369.4,506.5 369.7,506.6 369.9,506.6 370.2,506.5 370.5,506.3 370.7,506.3 371,506.3 371.3,506.2 371.5,506.2 371.8,506.2 372.1,506.3 372.4,506.4 372.6,506.4 372.9,506.3 373.2,506.1 373.4,506.1 373.7,506.1 374,506.3 374.2,506.5 374.5,506.9 374.8,507.4 375.1,507.8 375.3,508.2 375.6,508.5 375.9,508.6 376.1,508.3 376.4,508.1 376.7,507.6 376.9,507.1 377.2,506.7 377.5,506.4 377.8,506.3 378,506.1 378.3,506.1 378.6,506.1 378.8,506.2 379.1,506.4 379.4,506.4 379.7,506.4 379.9,506.6 380.2,507.1 380.5,507.6 380.7,508 381,508.2 381.3,508.5 381.5,508.6 381.8,508.7 382.1,508.9 382.4,509 382.6,508.9 382.9,508.6 383.2,508.1 383.4,507.5 383.7,507 384,506.8 384.2,506.7 384.5,506.9 384.8,507.1 385.1,507.3 385.3,507.7 385.6,508.2 385.9,508.7 386.1,509.1 386.4,509.1 386.7,509.1 386.9,509 387.2,508.9 387.5,509 387.8,508.9 388,508.7 388.3,508.6 388.6,508.6 388.8,508.6 389.1,508.9 389.4,509.2 389.6,509.5 389.9,509.9 390.2,510.2 390.5,510.4 390.7,510.7 391,510.8 391.3,510.9 391.5,511 391.8,511.1 392.1,511.3 392.3,511.5 392.6,511.8 392.9,512 393.2,512.1 393.4,511.9 393.7,511.4 394,511 394.2,510.8 394.5,510.5 394.8,510.2 395,509.9 395.3,509.7 395.6,509.5 395.9,509.4 396.1,509.3 396.4,509.2 396.7,509.1 396.9,509.1 397.2,509.1 397.5,509.1 397.7,509.2 398,509.3 398.3,509.6 398.6,509.8 398.8,509.9 399.1,510 399.4,509.8 399.6,509.6 399.9,509.4 400.2,509.3 400.4,509.4 400.7,509.7 401,509.9 401.3,510 401.5,510 401.8,509.9 402.1,510.1 402.3,510.3 402.6,510.6 402.9,510.9 403.1,510.9 403.4,510.7 403.7,510.5 404,510.1 404.2,509.8 404.5,509.6 404.8,509.4 405,509 405.3,508.7 405.6,508.3 405.8,508 406.1,507.9 406.4,508.1 406.7,508.3 406.9,508.8 407.2,509.4 407.5,509.7 407.7,509.8 408,509.6 408.3,509.4 408.5,509.1 408.8,508.8 409.1,508.7 409.4,508.7 409.6,508.6 409.9,508.5 410.2,508.4 410.4,508.2 410.7,507.8 411,507.4 411.2,507.2 411.5,507.1 411.8,507.4 412.1,507.9 412.3,508.5 412.6,509.1 412.9,509.7 413.1,510.1 413.4,510.3 413.7,510.4 414,510.5 414.2,510.4 414.5,510.1 414.8,509.8 415,509.2 415.3,508.7 415.6,508.3 415.8,508 416.1,507.9 416.4,507.7 416.7,507.8 416.9,507.7 417.2,507.6 417.5,507.7 417.7,507.6 418,507.4 418.3,507.2 418.5,507 418.8,507.1 419.1,507.2 419.4,507.6 419.6,508 419.9,508.5 420.2,509.2 420.4,509.6 420.7,509.5 421,509.4 421.2,509.1 421.5,508.8 421.8,508.6 422.1,508.4 422.3,508.1 422.6,508.1 422.9,508.2 423.1,508.3 423.4,508.5 423.7,508.3 423.9,507.8 424.2,507.3 424.5,506.9 424.8,506.8 425,507.1 425.3,507.3 425.6,507.7 425.8,508 426.1,507.9 426.4,507.7 426.6,507.3 426.9,507.2 427.2,507.4 427.5,507.6 427.7,508 428,508.4 428.3,508.8 428.5,509.1 428.8,509.4 429.1,509.4 429.3,509.5 429.6,509.6 429.9,509.8 430.2,509.7 430.4,509.6 430.7,509.3 431,508.8 431.2,508.1 431.5,507.5 431.8,507.2 432,507 432.3,507.1 432.6,507.2 432.9,507.3 433.1,507.5 433.4,507.7 433.7,507.8 433.9,507.4 434.2,507 434.5,506.5 434.7,505.8 435,505.5 435.3,505.6 435.6,506 435.8,506.6 436.1,507 436.4,507.4 436.6,507.9 436.9,508.3 437.2,509 437.4,509.6 437.7,509.8 438,509.7 438.3,509.8 438.5,509.7 438.8,509.7 439.1,509.6 439.3,509.2 439.6,508.9 439.9,508.8 440.1,508.6 440.4,508.5 440.7,508.2 441,507.9 441.2,507.5 441.5,507.1 441.8,506.8 442,506.6 442.3,506.4 442.6,506.4 442.8,506.6 443.1,506.8 443.4,506.9 443.7,507.2 443.9,507.2 444.2,507 444.5,506.8 444.7,506.5 445,506.3 445.3,506.3 445.5,506.6 445.8,507.1 446.1,507.5 446.4,507.6 446.6,507.4 446.9,506.9 447.2,506.5 447.4,506 447.7,505.6 448,505.3 448.2,505.1 448.5,505.1 448.8,505.3 449.1,505.4 449.3,505.6 449.6,505.8 449.9,505.8 450.1,505.8 450.4,505.9 450.7,506 451,506.1 451.2,506.3 451.5,506.7 451.8,507.1 452,507.8 452.3,508.5 452.6,509.1 452.8,509.4 453.1,509.5 453.4,509.5 453.7,509.1 453.9,508.6 454.2,508 454.5,507.2 454.7,506.6 455,506.3 455.3,505.9 455.5,505.6 455.8,505.4 456.1,505.3 456.4,505.3 456.6,505.3 456.9,505.6 457.2,505.6 457.4,505.7 457.7,505.8 458,506.1 458.2,506.2 458.5,506.4 458.8,506.8 459.1,507.2 459.3,507.5 459.6,507.7 459.9,507.9 460.1,508.3 460.4,508.6 460.7,509 460.9,509.5 461.2,509.9 461.5,510.3 461.8,510.2 462,509.9 462.3,509.3 462.6,508.8 462.8,508.3 463.1,507.6 463.4,506.9 463.6,506.2 463.9,505.6 464.2,505.3 464.5,505 464.7,505.1 465,505.1 465.3,505.2 465.5,505.3 465.8,505.2 466.1,505.1 466.3,505.2 466.6,505.5 466.9,506.1 467.2,506.7 467.4,507.2 467.7,507.5 468,507.6 468.2,507.5 468.5,507.3 468.8,507 469,506.7 469.3,506.5 469.6,506.7 469.9,507.1 470.1,507.6 470.4,508.2 470.7,508.6 470.9,509 471.2,509.2 471.5,509.5 471.7,509.8 472,509.6 472.3,509.4 472.6,509.1 472.8,508.5 473.1,507.8 473.4,507.1 473.6,506.8 473.9,506.6 474.2,506.4 474.4,506.5 474.7,506.8 475,507.1 475.3,507.1 475.5,507.2 475.8,507.1 476.1,506.9 476.3,506.3 476.6,505.6 476.9,504.9 477.1,504.5 477.4,504.3 477.7,504.4 478,504.4 478.2,504.6 478.5,504.9 478.8,505.3 479,505.8 479.3,506.4 479.6,506.9 479.8,507.4 480.1,507.9 480.4,508.2 480.7,508.3 480.9,508.2 481.2,508.2 481.5,508.5 481.7,508.6 482,508.3 482.3,507.8 482.5,507.2 482.8,506.7 483.1,506.3 483.4,506 483.6,505.8 483.9,505.6 484.2,505.3 484.4,505.1 484.7,505.3 485,505.5 485.2,505.8 485.5,505.9 485.8,505.9 486.1,505.6 486.3,505 486.6,504.4 486.9,503.8 487.1,503.2 487.4,502.7 487.7,502.4 488,502.1 488.2,501.8 488.5,501.7 488.8,501.9 489,502.3 489.3,503.1 489.6,503.9 489.8,504.8 490.1,505.9 490.4,506.9 490.7,507.9 490.9,508.8 491.2,509.4 491.5,509.8 491.7,509.8 492,509.9 492.3,509.7 492.5,509.2 492.8,508.4 493.1,507.4 493.4,506.5 493.6,505.6 493.9,504.9 494.2,504.2 494.4,503.8 494.7,503.5 495,503.4 495.2,503.3 495.5,503.5 495.8,503.5 496.1,503.9 496.3,504.5 496.6,505.3 496.9,506 497.1,506.6 497.4,507 497.7,507 497.9,507.1 498.2,507.2 498.5,507.4 498.8,507.7 499,508.1 499.3,508.4 499.6,508.4 499.8,508 500.1,507.4 500.4,506.8 500.6,506.2 500.9,505.8 501.2,505.9 501.5,506.1 501.7,506.2 502,506 502.3,505.4 502.5,505 502.8,504.3 503.1,503.7 503.3,503.1 503.6,502.7 503.9,502.2 504.2,502 504.4,502 504.7,502.3 505,502.9 505.2,503.6 505.5,504.3 505.8,504.9 506,505.6 506.3,506.4 506.6,507.1 506.9,507.7 507.1,508.1 507.4,508.5 507.7,508.5 507.9,508.3 508.2,507.9 508.5,507.5 508.7,507.4 509,507.5 509.3,507.6 509.6,507.6 509.8,507.7 510.1,507.9 510.4,507.9 510.6,507.8 510.9,507.6 511.2,507.3 511.4,506.9 511.7,506.2 512,505.4 512.3,504.7 512.5,504.1 512.8,503.7 513.1,503.6 513.3,503.6 513.6,503.8 513.9,504.1 514.1,504.3 514.4,504.5 514.7,504.7 515,504.8 515.2,504.8 515.5,504.9 515.8,505 516,505 516.3,505 516.6,505.1 516.8,505.2 517.1,505.3 517.4,505.3 517.7,505.2 517.9,505.1 518.2,505 518.5,504.8 518.7,504.8 519,504.6 519.3,504.5 519.5,504.4 519.8,504.2 520.1,504 520.4,504 520.6,504.3 520.9,504.7 521.2,505.3 521.4,505.9 521.7,506.5 522,506.6 522.3,506.6 522.5,506.4 522.8,506.1 523.1,505.9 523.3,505.6 523.6,505.5 523.9,505.6 524.1,505.7 524.4,505.7 524.7,505.7 525,505.8 525.2,506 525.5,506.2 525.8,506.3 526,506.2 526.3,506 526.6,506 526.8,506.3 527.1,506.5 527.4,506.8 527.7,507 527.9,507 528.2,506.9 528.5,506.6 528.7,506.2 529,505.7 529.3,505.3 529.5,505 529.8,504.6 530.1,504.3 530.4,504 530.6,503.8 530.9,503.5 531.2,503.2 531.4,502.9 531.7,503 532,503.2 532.2,503.7 532.5,504.4 532.8,505.4 533.1,505.9 533.3,506.2 533.6,506.3 533.9,506.6 534.1,506.9 534.4,506.9 534.7,507.3 534.9,507.6 535.2,507.6 535.5,507.6 535.8,507.3 536,507 536.3,506.3 536.6,505.7 536.8,505.4 537.1,505.1 537.4,504.8 537.6,504.7 537.9,504.5 538.2,504.5 538.5,504.7 538.7,504.7 539,504.7 539.3,504.6 539.5,504.7 539.8,505.1 540.1,505.7 540.3,506.2 540.6,506.6 540.9,506.7 541.2,506.8 541.4,506.7 541.7,506.6 542,506.5 542.2,506.4 542.5,506.2 542.8,506.1 543,505.9 543.3,505.8 543.6,505.8 543.9,505.9 544.1,505.8 544.4,505.9 544.7,505.7 544.9,505.5 545.2,505 545.5,504.7 545.7,504.5 546,504.5 546.3,504.5 546.6,504.5 546.8,504.8 547.1,504.9 547.4,505.1 547.6,505.4 547.9,505.5 548.2,505.5 548.4,505.3 548.7,505 549,504.6 549.3,504.1 549.5,503.4 549.8,503 550.1,502.6 550.3,502.5 550.6,502.7 550.9,503.1 551.1,503.5 551.4,504.2 551.7,505 552,505.7 552.2,506.2 552.5,506.3 552.8,506 553,505.5 553.3,505 553.6,504.5 553.8,504.3 554.1,504.4 554.4,504.7 554.7,504.9 554.9,505.1 555.2,505.3 555.5,505.2 555.7,505.1 556,505 556.3,504.9 556.5,504.8 556.8,504.7 557.1,504.6 557.4,504.6 557.6,504.7 557.9,504.6 558.2,504.6 558.4,504.7 558.7,505 559,505.4 559.3,505.8 559.5,506.3 559.8,506.7 560.1,506.7 560.3,506.5 560.6,506.4 560.9,506.2 561.1,506.2 561.4,506.1 561.7,505.9 562,505.7 562.2,505.5 562.5,505 562.8,504.6 563,504.3 563.3,504 563.6,503.9 563.8,503.8 564.1,503.6 564.4,503.3 564.7,503.1 564.9,503.5 565.2,503.9 565.5,504.2 565.7,504.3 566,504.2 566.3,503.9 566.5,503.6 566.8,503.3 567.1,503 567.4,503 567.6,502.8 567.9,502.7 568.2,502.8 568.4,503 568.7,503.3 569,503.8 569.2,504.4 569.5,504.8 569.8,505.2 570.1,505.4 570.3,505.5 570.6,505.8 570.9,506 571.1,506.2 571.4,506.4 571.7,506.4 571.9,506.4 572.2,506.3 572.5,506.1 572.8,505.7 573,505.4 573.3,505.1 573.6,505.1 573.8,505.3 574.1,505.4 574.4,505.7 574.6,505.8 574.9,505.7 575.2,505.7 575.5,505.5 575.7,505.5 576,505.8 576.3,506.2 576.5,506.7 576.8,506.8 577.1,506.8 577.3,506.5 577.6,506.2 577.9,505.8 578.2,505.4 578.4,505.2 578.7,504.9 579,504.5 579.2,504.1 579.5,503.4 579.8,503 580,502.9 580.3,503.1 580.6,503.5 580.9,503.7 581.1,503.9 581.4,504.3 581.7,504.7 581.9,505.4 582.2,506 582.5,506.6 582.7,507.1 583,507.4 583.3,507.6 583.6,507.7 583.8,507.7 584.1,507.6 584.4,507.4 584.6,507.2 584.9,506.8 585.2,506.6 585.4,506 585.7,505.6 586,505.2 586.3,505 586.5,505 586.8,505.2 587.1,505.5 587.3,505.7 587.6,506 587.9,506.2 588.1,506.4 588.4,506.6 588.7,506.7 589,506.6 589.2,506.5 589.5,506.4 589.8,506.2 590,505.9 590.3,505.5 590.6,504.9 590.8,504.3 591.1,504.1 591.4,503.9 591.7,504.1 591.9,504.5 592.2,505.2 592.5,505.7 592.7,505.9 593,506 593.3,505.9 593.6,505.7 593.8,505.5 594.1,505.3 594.4,505.1 594.6,504.9 594.9,504.7 595.2,504.5 595.4,504.3 595.7,504.2 596,504.1 596.3,504 596.5,503.9 596.8,503.8 597.1,503.6 597.3,503.4 597.6,503.2 597.9,503.1 598.1,503 598.4,502.9 598.7,502.9 599,502.9 599.2,503.1 599.5,503.5 599.8,504.1 600,504.7 600.3,505.5 600.6,506.3 600.8,507.2 601.1,508.1 601.4,509.4 601.7,511.1 601.9,513.1 602.2,515.1 602.5,517 602.7,518.5 603,519.6 603.3,520.1 603.5,519.4 603.8,517.2 604.1,513.9 604.4,509.8 604.6,505.2 604.9,500.5 605.2,496.1 605.4,492.5 605.7,489.9 606,488.8 606.2,489.3 606.5,490.9 606.8,493.4 607.1,496.5 607.3,499.9 607.6,503.3 607.9,506.7 608.1,509.6 608.4,512 608.7,513.9 608.9,515.7 609.2,517.6 609.5,519.3 609.8,520.8 610,521.8 610.3,522.2 610.6,521.6 610.8,519.7 611.1,517 611.4,513.8 611.6,510.5 611.9,507.7 612.2,505.6 612.5,504.7 612.7,504.9 613,505.3 613.3,505.8 613.5,506.4 613.8,507 614.1,507.5 614.3,507.9 614.6,508.2 614.9,508.3 615.2,508.2 615.4,507.9 615.7,507.4 616,506.6 616.2,505.8 616.5,505 616.8,504.1 617,503.4 617.3,502.9 617.6,502.6 617.9,502.4 618.1,502.5 618.4,502.8 618.7,503.4 618.9,504.1 619.2,505 619.5,505.9 619.7,506.9 620,507.9 620.3,508.6 620.6,509.2 620.8,509.6 621.1,509.7 621.4,509.5 621.6,509.1 621.9,508.5 622.2,507.8 622.4,506.9 622.7,506.1 623,505.1 623.3,504.3 623.5,503.5 623.8,503 624.1,502.9 624.3,503.1 624.6,503.7 624.9,504.4 625.1,505.2 625.4,506 625.7,506.8 626,507.4 626.2,507.9 626.5,508.3 626.8,508.5 627,508.5 627.3,508.3 627.6,507.8 627.8,507.2 628.1,506.5 628.4,505.7 628.7,504.9 628.9,504 629.2,503.2 629.5,502.5 629.7,502 630,501.8 630.3,502 630.6,502.4 630.8,502.9 631.1,503.6 631.4,504.3 631.6,505.1 631.9,505.8 632.2,506.4 632.4,506.9 632.7,507.3 633,507.4 633.3,507.3 633.5,507.1 633.8,506.8 634.1,506.5 634.3,506 634.6,505.5 634.9,505 635.1,504.4 635.4,504 635.7,503.7 636,503.6 636.2,503.6 636.5,503.9 636.8,504.3 637,504.7 637.3,505.3 637.6,505.9 637.8,506.6 638.1,507.3 638.4,507.9 638.7,508.5 638.9,509 639.2,509.5 639.5,510 639.7,510.6 640,511.1 640.3,511.6 640.5,512 640.8,512.5 641.1,512.8 641.4,513.2 641.6,513.5 641.9,513.7 642.2,513.8 642.4,513.8 642.7,513.7 643,513.4 643.2,512.6 643.5,511.4 643.8,509.8 644.1,507.9 644.3,505.7 644.6,503.3 644.9,500.9 645.1,498.4 645.4,496 645.7,493.6 645.9,491.3 646.2,489.3 646.5,487.5 646.8,486.2 647,485.3 647.3,484.8 647.6,485 647.8,485.6 648.1,486.6 648.4,488.1 648.6,489.8 648.9,491.8 649.2,493.9 649.5,496 649.7,498.1 650,500.1 650.3,502.2 650.5,504.6 650.8,507.4 651.1,510.3 651.3,513.3 651.6,516.2 651.9,519.1 652.2,521.6 652.4,523.8 652.7,525.5 653,526.6 653.2,527 653.5,526.7 653.8,525.9 654,524.5 654.3,522.7 654.6,520.5 654.9,517.9 655.1,515.1 655.4,512.3 655.7,509.4 655.9,506.7 656.2,504.1 656.5,501.8 656.7,499.9 657,498.3 657.3,497.1 657.6,496.4 657.8,496.2 658.1,496.7 658.4,498 658.6,499.7 658.9,501.9 659.2,504.2 659.4,506.6 659.7,508.8 660,510.5 660.3,511.7 660.5,512.1 660.8,511.6 661.1,510.4 661.3,508.7 661.6,506.7 661.9,504.7 662.1,502.7 662.4,501 662.7,499.7 663,499.1 663.2,499.2 663.5,499.8 663.8,500.7 664,502 664.3,503.5 664.6,505 664.8,506.6 665.1,508 665.4,509.2 665.7,510 665.9,510.3 666.2,510.1 666.5,509.5 666.7,508.6 667,507.5 667.3,506.3 667.6,505 667.8,503.9 668.1,502.8 668.4,502 668.6,501.5 668.9,501.2 669.2,501.4 669.4,501.9 669.7,502.7 670,503.7 670.3,504.8 670.5,506 670.8,507.3 671.1,508.5 671.3,509.6 671.6,510.5 671.9,510.9 672.1,511 672.4,510.6 672.7,510 673,509.1 673.2,508.2 673.5,507.1 673.8,506.1 674,505 674.3,503.8 674.6,502.3 674.8,500.8 675.1,499.4 675.4,498.1 675.7,497 675.9,496.3 676.2,496 676.5,496.6 676.7,498.4 677,501.1 677.3,504.4 677.5,508 677.8,511.5 678.1,514.8 678.4,517.3 678.6,518.8 678.9,519 679.2,517.7 679.4,515.1 679.7,511.6 680,507.6 680.2,503.4 680.5,499.4 680.8,496 681.1,493.5 681.3,492.3 681.6,492.6 681.9,494.5 682.1,497.4 682.4,501.2 682.7,505.4 682.9,509.6 683.2,513.5 683.5,516.7 683.8,518.8 684,519.5 684.3,519 684.6,517.7 684.8,515.9 685.1,513.5 685.4,510.8 685.6,507.9 685.9,505.1 686.2,502.3 686.5,499.9 686.7,497.9 687,496.5 687.3,495.9 687.5,496.6 687.8,499 688.1,502.5 688.3,506.6 688.6,510.8 688.9,514.6 689.2,517.5 689.4,518.9 689.7,518.5 690,516.8 690.2,514.2 690.5,511 690.8,507.5 691,504.2 691.3,501.3 691.6,499.1 691.9,498.1 692.1,498.2 692.4,499 692.7,500.4 692.9,502.1 693.2,504.1 693.5,506.1 693.7,508 694,509.5 694.3,510.5 694.6,510.9 694.8,510.8 695.1,510.3 695.4,509.6 695.6,508.5 695.9,507.2 696.2,505.8 696.4,504.4 696.7,503.1 697,502 697.3,501.1 697.5,500.1 697.8,499 698.1,497.9 698.3,496.9 698.6,496 698.9,495.4 699.1,495.1 699.4,495.9 699.7,497.9 700,500.9 700.2,504.5 700.5,508.5 700.8,512.6 701,516.4 701.3,519.7 701.6,522.2 701.9,523.6 702.1,523.8 702.4,522.7 702.7,520.5 702.9,517.5 703.2,513.9 703.5,510.1 703.7,506.2 704,502.6 704.3,499.3 704.6,496.9 704.8,495.4 705.1,495.2 705.4,496.7 705.6,499.8 705.9,503.9 706.2,508.5 706.4,513.3 706.7,517.8 707,521.4 707.3,523.9 707.5,524.7 707.8,523.6 708.1,520.8 708.3,516.8 708.6,511.8 708.9,506.4 709.1,500.9 709.4,495.9 709.7,491.6 710,488.6 710.2,487.3 710.5,487.9 710.8,490.5 711,494.6 711.3,499.7 711.6,505.3 711.8,510.9 712.1,516.1 712.4,520.6 712.7,523.7 712.9,525.3 713.2,524.6 713.5,521.6 713.7,516.8 714,510.8 714.3,504.1 714.5,497.4 714.8,491.3 715.1,486.3 715.4,483.1 715.6,482 715.9,483.4 716.2,486.8 716.4,491.6 716.7,497.3 717,503.5 717.2,509.7 717.5,515.3 717.8,519.8 718.1,522.8 718.3,523.8 718.6,523 718.9,521.3 719.1,518.8 719.4,515.9 719.7,512.7 719.9,509.6 720.2,506.8 720.5,504.6 720.8,503.1 721,502.6 721.3,502.9 721.6,503.6 721.8,504.5 722.1,505.4 722.4,506.5 722.6,507.4 722.9,508.2 723.2,508.9 723.5,509.2 723.7,508.9 724,508.1 724.3,506.8 724.5,505.3 724.8,503.8 725.1,502.6 725.3,502 725.6,502.1 725.9,502.6 726.2,503.4 726.4,504.3 726.7,505.2 727,506.2 727.2,507.1 727.5,507.9 727.8,508.4 728,508.8 728.3,509 728.6,509.2 728.9,509.5 729.1,509.8 729.4,510.2 729.7,510.5 729.9,510.7 730.2,510.9 730.5,511 730.7,510.9 731,510.4 731.3,509.4 731.6,508.3 731.8,507 732.1,505.8 732.4,504.7 732.6,503.8 732.9,503.3 733.2,503.2 733.4,503.1 733.7,503.2 734,503.3 734.3,503.5 734.5,503.8 734.8,504 735.1,504.2 735.3,504.4 735.6,504.5 735.9,504.8 736.1,505.1 736.4,505.5 736.7,506.1 737,506.7 737.2,507.3 737.5,507.9 737.8,508.5 738,509.1 738.3,509.7 738.6,510 738.9,510.1 739.1,510 739.4,509.6 739.7,508.9 739.9,508.1 740.2,507.2 740.5,506.2 740.7,505.3 741,504.5 741.3,503.8 741.6,503.3 741.8,503 742.1,502.9 742.4,502.9 742.6,502.9 742.9,502.9 743.2,502.9 743.4,502.8 743.7,502.8 744,502.7 744.3,502.5 744.5,502.3 744.8,502.1 745.1,501.9 745.3,501.9 745.6,501.8 745.9,501.8 746.1,501.8 746.4,501.9 746.7,502.1 747,502.7 747.2,503.6 747.5,504.8 747.8,506.1 748,507.5 748.3,508.9 748.6,510.2 748.8,511.5 749.1,512.6 749.4,513.5 749.7,514.2 749.9,514.7 750.2,515 750.5,514.9 750.7,514.7 751,514.2 751.3,513.5 751.5,512.7 751.8,511.6 752.1,510.5 752.4,509.4 752.6,508.4 752.9,507.6 753.2,506.8 753.4,506.3 753.7,505.9 754,505.4 754.2,505 754.5,504.6 754.8,504.3 755.1,503.9 755.3,503.7 755.6,503.4 755.9,503.2 756.1,503 756.4,502.8 756.7,502.6 756.9,502.6 757.2,502.6 757.5,502.9 757.8,503.5 758,504.1 758.3,504.9 758.6,505.8 758.8,506.6 759.1,507.5 759.4,508.3 759.6,509.1 759.9,509.6 760.2,510 760.5,510.4 760.7,510.7 761,510.9 761.3,511.2 761.5,511.3 761.8,511.5 762.1,511.7 762.3,511.8 762.6,511.9 762.9,511.8 763.2,511.5 763.4,511 763.7,510.3 764,509.6 764.2,508.8 764.5,507.9 764.8,507 765,506.1 765.3,505.2 765.6,504.4 765.9,503.9 766.1,503.6 766.4,503.5 766.7,503.4 766.9,503.4 767.2,503.5 767.5,503.5 767.7,503.5 768,503.4 768.3,503.3 768.6,503.2 768.8,503.1 769.1,503.3 769.4,503.6 769.6,504.2 769.9,505 770.2,506 770.4,507 770.7,508.1 771,509 771.3,509.8 771.5,510.4 771.8,510.8 772.1,511.2 772.3,511.4 772.6,511.5 772.9,511.5 773.1,511.3 773.4,510.9 773.7,510.3 774,509.7 774.2,508.9 774.5,508 774.8,507.1 775,506.2 775.3,505.4 775.6,504.8 775.9,504.3 776.1,503.9 776.4,503.7 776.7,503.7 776.9,503.8 777.2,504 777.5,504.3 777.7,504.7 778,505.2 778.3,505.8 778.6,506.3 778.8,506.8 779.1,507.1 779.4,507.4 779.6,507.5 779.9,507.5 780.2,507.3 780.4,507.2 780.7,507 781,506.9 781.3,506.9 781.5,506.8 781.8,506.8 782.1,506.7 782.3,506.6 782.6,506.4 782.9,506.2 783.1,505.8 783.4,505.6 783.7,505.2 784,504.9 784.2,504.4 784.5,503.3 784.8,502.7 785,502.8 785.3,502.7 785.6,502.1 785.8,501.6 786.1,501 786.4,500.7 786.7,500.3 786.9,500.6 787.2,500.9 787.5,501.3 787.7,501.7 788,501.9 788.3,501.9 788.5,502.3 788.8,502.6 789.1,503.5 789.4,504 789.6,503.3 789.9,502.5 790.2,501.7 790.4,501.1 790.7,500.6 791,500.6 791.2,500.6 791.5,500.9 791.8,501.6 792.1,502.3 792.3,502.9 792.6,504.2 792.9,504.6 793.1,504.8 793.4,505.6 793.7,505.8 793.9,505.9 794.2,505.9 794.5,505.5 794.8,505.4 795,506.1 795.3,506.7 795.6,506.9 795.8,506.5 796.1,506.3 796.4,506 796.6,505.6 796.9,505.3 797.2,505 797.5,504.7 797.7,504.8 798,504.3 798.3,504.2 798.5,504.3 798.8,504.5 799.1,505 799.3,505.3 799.6,505.1 799.9,504.5 800.2,504 800.4,503.8 800.7,503.4 801,503.7 801.2,503.9 801.5,503.8 801.8,503.6 802,503.8 802.3,504.5 802.6,504.5 802.9,504.6 803.1,505.2 803.4,506.1 803.7,506.9 803.9,507 804.2,506.9 804.5,506.3 804.7,505.5 805,504.5 805.3,503.5 805.6,502.7 805.8,502.1 806.1,501.8 806.4,501.8 806.6,501.6 806.9,501.7 807.2,501.9 807.4,502.5 807.7,503.2 808,504.3 808.3,504.9 808.5,505.3 808.8,505.5 809.1,505 809.3,505.3 809.6,505.9 809.9,507.1 810.2,508 810.4,508.4 810.7,508.2 811,507.8 811.2,507.5 811.5,506.4 811.8,505.2 812,504.2 812.3,503.8 812.6,503.3 812.9,503.2 813.1,503.3 813.4,503.4 813.7,503.4 813.9,503.7 814.2,503.7 814.5,504.1 814.7,504.8 815,505.2 815.3,505.3 815.6,505.1 815.8,504.8 816.1,504.5 816.4,504.6 816.6,505.3 816.9,505.9 817.2,506.8 817.4,507.5 817.7,507.7 818,507.5 818.3,506.1 818.5,505.1 818.8,504.3 819.1,503.6 819.3,502.7 819.6,502.2 819.9,502.2 820.1,502 820.4,502.3 820.7,502.7 821,502.9 821.2,503.5 821.5,504.2 821.8,504.6 822,504.9 822.3,505.1 822.6,505.6 822.8,506 823.1,506.7 823.4,507.7 823.7,507.8 823.9,507.6 824.2,506.9 824.5,506.5 824.7,506.2 825,506.1 825.3,506.4 825.5,506.5 825.8,506.7 826.1,506.8 826.4,507.2 826.6,506.9 826.9,506.3 827.2,505.6 827.4,505.2 827.7,505.2 828,505 828.2,505.1 828.5,505.1 828.8,505.2 829.1,505.7 829.3,505.7 829.6,506.3 829.9,506.7 830.1,507.1 830.4,507.6 830.7,507.9 830.9,507.9 831.2,507.7 831.5,507.7 831.8,507.3 832,506.6 832.3,505.7 832.6,504.3 832.8,502.9 833.1,501.4 833.4,499.9 833.6,498.9 833.9,498.6 834.2,498.6 834.5,499.1 834.7,499.4 835,499.8 835.3,500.2 835.5,500.8 835.8,501.5 836.1,502.2 836.3,503 836.6,503.4 836.9,504 837.2,504.5 837.4,505 837.7,505.6 838,506.2 838.2,507.4 838.5,508.1 838.8,508.6 839,508.5 839.3,508 839.6,507.6 839.9,506.4 840.1,505.2 840.4,504.2 840.7,504 840.9,503.8 841.2,503.7 841.5,503.9 841.7,503.9 842,503.7 842.3,503.6 842.6,503.8 842.8,503.7 843.1,503.6 843.4,503.7 843.6,503.3 843.9,503 844.2,502.9 844.4,502.8 844.7,502.7 845,502.6 845.3,502.6 845.5,503 845.8,503.5 846.1,504.1 846.3,504.7 846.6,505.1 846.9,505.4 847.2,505.7 847.4,506 847.7,506.2 848,506.4 848.2,506 848.5,506 848.8,505.6 849,504.5 849.3,504.1 849.6,503.7 849.9,503.9 850.1,504.3 850.4,504.3 850.7,504.1 850.9,504.2 851.2,504.7 851.5,505.4 851.7,506 852,506.6 852.3,507.1 852.6,507.3 852.8,507.2 853.1,506.8 853.4,506.2 853.6,505.9 853.9,505.1 854.2,505.1 854.4,504.9 854.7,505 855,505.2 855.3,505.5 855.5,505.9 855.8,506.3 856.1,506.5 856.3,506.9 856.6,506.8 856.9,506.6 857.1,506 857.4,505.4 857.7,505 858,504.6 858.2,504.1 858.5,504 858.8,504.1 859,503.9 859.3,503.9 859.6,504.2 859.8,504.4 860.1,504.9 860.4,506 860.7,507.3 860.9,508.4 861.2,508.8 861.5,508.6 861.7,508 862,507.6 862.3,507 862.5,506.3 862.8,506 863.1,505.4 863.4,505 863.6,504.5 863.9,503.9 864.2,503.7 864.4,503.3 864.7,503.4 865,503.6 865.2,504 865.5,504.4 865.8,504.8 866.1,505.2 866.3,505.3 866.6,505.3 866.9,505.4 867.1,506 867.4,506.4 867.7,506.9 867.9,507.5 868.2,508.2 868.5,508.7 868.8,508.8 869,508.3 869.3,507.5 869.6,506.7 869.8,505.8 870.1,505.2 870.4,504.5 870.6,503.8 870.9,503.4 871.2,503.2 871.5,503.3 871.7,503.6 872,503.8 872.3,503.3 872.5,502.8 872.8,502.1 873.1,501.5 873.3,501.3 873.6,501 873.9,501 874.2,501.4 874.4,501.9 874.7,502.5 875,503.2 875.2,503.8 875.5,504.6 875.8,505.3 876,505.5 876.3,505.7 876.6,505.8 876.9,505.5 877.1,505 877.4,504.5 877.7,504.7 877.9,504.9 878.2,505.2 878.5,505.6 878.7,505.7 879,505.3 879.3,505.3 879.6,505.7 879.8,506.2 880.1,506.8 880.4,507.5 880.6,507.4 880.9,506.9 881.2,506.5 881.5,506.1 881.7,505.2 882,504.2 882.3,503.5 882.5,503 882.8,502.5 883.1,502.3 883.3,502.3 883.6,502.2 883.9,502.4 884.2,502.8 884.4,503.6 884.7,504.6 885,505.3 885.2,506 885.5,506.9 885.8,507.7 886,508 886.3,508 886.6,508 886.9,507.8 887.1,507.3 887.4,506.7 887.7,506.4 887.9,506.1 888.2,505.7 888.5,505.2 888.7,504.9 889,504.6 889.3,504.4 889.6,504.8 889.8,505 890.1,505.2 890.4,505.4 890.6,505.5 890.9,505.4 891.2,505 891.4,504.6 891.7,504.2 892,504.2 892.3,504.7 892.5,505.1 892.8,505.7 893.1,506.1 893.3,506.4 893.6,506.8 893.9,507.2 894.1,507.7 894.4,508.2 894.7,508.6 895,508.7 895.2,508.4 895.5,508.2 895.8,507.9 896,507.2 896.3,506.2 896.6,505.3 896.8,504.8 897.1,504.5 897.4,504.1 897.7,503.9 897.9,503.5 898.2,503.3 898.5,503.4 898.7,503.8 899,504.3 899.3,504.8 899.5,505.2 899.8,505.5 900.1,505.8 900.4,506.2 900.6,506.4 900.9,506.9 901.2,507.1 901.4,507 901.7,506.5 902,505.8 902.2,505 902.5,504.4 902.8,504 903.1,503.7 903.3,503.9 903.6,504.2 903.9,504.5 904.1,504.7 904.4,504.9 904.7,505.1 904.9,505.5 905.2,505.5 905.5,505.3 905.8,505.1 906,504.8 906.3,504.1 906.6,503.3 906.8,502.7 907.1,502.5 907.4,502.5 907.6,502.5 907.9,502.6 908.2,503 908.5,503.2 908.7,503.5 909,504 909.3,504.5 909.5,505 909.8,505.5 910.1,506 910.3,506.2 910.6,506.6 910.9,506.8 911.2,507 911.4,507.1 911.7,507.4 912,507.6 912.2,507.5 912.5,507.2 912.8,506.6 913,506.2 913.3,505.6 913.6,504.7 913.9,504.2 914.1,503.8 914.4,503.5 914.7,503.3 914.9,503 915.2,503.3 915.5,503.5 915.7,503.8 916,504.3 916.3,504.7 916.6,505.2 916.8,505.3 917.1,505.2 917.4,505.1 917.6,504.8 917.9,504.5 918.2,504.5 918.5,504.9 918.7,505.3 919,505.6 919.3,505.8 919.5,505.6 919.8,505.5 920.1,505.3 920.3,505.1 920.6,505.1 920.9,505 921.2,505 921.4,505.4 921.7,506.1 922,506.6 922.2,507 922.5,507.2 922.8,507.3 923,507.3 923.3,506.9 923.6,506.5 923.9,506.2 924.1,505.7 924.4,505.3 924.7,505.1 924.9,504.8 925.2,504.8 925.5,504.6 925.7,504.6 926,504.6 926.3,504.6 926.6,504.5 926.8,504.4 927.1,504.4 927.4,504.4 927.6,504.2 927.9,503.9 928.2,503.6 928.4,503.4 928.7,503.4 929,503.6 929.3,503.8 929.5,504 929.8,504 930.1,504.4 930.3,504.2 930.6,504.5 930.9,504.9 931.1,505.3 931.4,505.9 931.7,506.6 932,507.3 932.2,507.9 932.5,508.5 932.8,508.8 933,508.8 933.3,508.6 933.6,508.1 933.8,507.3 934.1,506.7 934.4,506.2 934.7,505.9 934.9,505.8 935.2,505.5 935.5,505.1 935.7,504.6 936,504.3 936.3,503.8 936.5,503.6 936.8,503.5 937.1,503.6 937.4,503.6 937.6,503.6 937.9,504 938.2,504.5 938.4,505 938.7,505.5 939,505.7 939.2,505.8 939.5,505.7 939.8,505.5 940.1,505.4 940.3,505.2 940.6,505.3 940.9,505.6 941.1,506 941.4,506.2 941.7,506.4 941.9,506.6 942.2,507 942.5,507.3 942.8,507.7 943,507.5 943.3,507.3 943.6,506.6 943.8,506 944.1,505.5 944.4,505.2 944.6,505 944.9,504.7 945.2,504.1 945.5,503.2 945.7,502.5 946,501.9 946.3,501.4 946.5,501.3 946.8,501.7 947.1,502.5 947.3,504 947.6,505.3 947.9,506.4 948.2,507.2 948.4,507.5 948.7,507.4 949,506.6 949.2,505.7 949.5,504.7 949.8,504.1 950,503.7 950.3,503.6 950.6,503.6 950.9,503.8 951.1,504.1 951.4,504.4 951.7,504.6 951.9,504.9 952.2,505.3 952.5,505.7 952.7,506.3 953,506.4 953.3,506.4 953.6,506.2 953.8,505.8 954.1,505.5 954.4,505.1 954.6,504.9 954.9,504.8 955.2,504.7 955.5,504.4 955.7,503.8 956,503.3 956.3,502.9 956.5,502.9 956.8,503.1 957.1,503.1 957.3,503.3 957.6,504 957.9,504.7 958.2,505.4 958.4,506 958.7,506.3 959,506.6 959.2,506.9 959.5,507.4 959.8,507.8 960,508 960.3,508 960.6,507.7 960.9,507.5 961.1,507.3 961.4,506.8 961.7,505.9 961.9,505.2 962.2,504.5 962.5,503.7 962.7,503.2 963,503 963.3,503.1 963.6,503.6 963.8,504 964.1,504.5 964.4,504.8 964.6,505 964.9,504.9 965.2,505.1 965.4,505.3 965.7,505.6 966,505.9 966.3,506.2 966.5,506.5 966.8,506.6 967.1,506.5 967.3,506.5 967.6,506.4 967.9,506.1 968.1,505.7 968.4,505.6 968.7,505.6 969,505.6 969.2,505.4 969.5,505 969.8,504.8 970,504.5 970.3,504.2 970.6,504 970.8,504.1 971.1,504.2 971.4,504.2 971.7,504.1 971.9,504.1 972.2,504 972.5,503.8 972.7,504.1 973,504.4 973.3,504.7 973.5,504.5 973.8,503.9 974.1,503.4 974.4,503.1 974.6,502.9 974.9,502.8 975.2,502.8 975.4,502.8 975.7,503.1 976,503.9 976.2,504.9 976.5,505.7 976.8,506.2 977.1,506.9 977.3,507.7 977.6,508.2 977.9,508.9 978.1,509 978.4,508.6 978.7,508.5 978.9,508.2 979.2,507.7 979.5,507 979.8,506.3 980,505.8 980.3,505.4 980.6,504.8 980.8,504.1 981.1,503.3 981.4,502.7 981.6,502.1 981.9,501.7 982.2,501.4 982.5,501.5 982.7,501.9 983,502.7 983.3,503.3 983.5,503.9 983.8,504.4 984.1,504.5 984.3,504.3 984.6,504.3 984.9,504.7 985.2,505 985.4,505.4 985.7,505.3 986,505.2 986.2,505 986.5,505 986.8,505.1 987,505 987.3,504.9 987.6,505 987.9,504.8 988.1,504.6 988.4,504.6 988.7,504.7 988.9,504.9 989.2,504.7 989.5,504.6 989.8,504.4 990,504.3 990.3,504.2 990.6,504.2 990.8,504.3 991.1,504.4 991.4,504.8 991.6,505 991.9,505.1 992.2,505.2 992.5,505.1 992.7,504.4 993,503.9 993.3,503.5 993.5,503.3 993.8,503.2 994.1,503.1 994.3,503 994.6,503.1 994.9,503.5 995.2,503.9 995.4,504.3 995.7,504.9 996,505.5 996.2,506.1 996.5,506.6 996.8,506.9 997,507.1 997.3,507.1 997.6,507.1 997.9,506.8 998.1,507 998.4,506.8 998.7,506.5 998.9,506.2 999.2,505.8 999.5,505.3 999.7,504.9 1000,504.6 1000.3,504.3 1000.6,504 1000.8,503.9 1001.1,503.9 1001.4,503.7 1001.6,503.8 1001.9,503.8 1002.2,503.9 1002.4,503.8 1002.7,503.5 1003,503.5 1003.3,503.6 1003.5,503.8 1003.8,503.8 1004.1,503.6 1004.3,503.3 1004.6,503 1004.9,502.7 1005.1,502.6 1005.4,502.8 1005.7,503.1 1006,503.5 1006.2,503.7 1006.5,504.2 1006.8,504.5 1007,505 1007.3,505.7 1007.6,506 1007.8,506 1008.1,505.7 1008.4,505.1 1008.7,504.4 1008.9,503.8 1009.2,503.4 1009.5,503.5 1009.7,503.9 1010,504.5 1010.3,505.1 1010.5,505.7 1010.8,505.8 1011.1,506 1011.4,506.1 1011.6,506.4 1011.9,506.5 1012.2,506.4 1012.4,506.3 1012.7,505.8 1013,505.5 1013.2,505.1 1013.5,504.4 1013.8,504.1 1014.1,504 1014.3,504.4 1014.6,504.7 1014.9,505.2 1015.1,505.2 1015.4,505.1 1015.7,505.1 1015.9,505.1 1016.2,505.3 1016.5,505.4 1016.8,505.2 1017,505.2 1017.3,505.5 1017.6,506 1017.8,506.5 1018.1,507.3 1018.4,507.7 1018.6,507.6 1018.9,507.6 1019.2,507 1019.5,506.7 1019.7,506.3 1020,505.7 1020.3,505.4 1020.5,505.6 1020.8,505.9 1021.1,506.4 1021.3,506.9 1021.6,507.2 1021.9,507.4 1022.2,507.5 1022.4,507.5 1022.7,507.4 1023,507.2 1023.2,506.8 1023.5,506.5 1023.8,505.8 1024,505.4 1024.3,505 1024.6,504.7 1024.9,504.5 1025.1,504.2 1025.4,503.8 1025.7,503.2 1025.9,502.8 1026.2,502 1026.5,501.4 1026.8,501.2 1027,501.5 1027.3,501.5 1027.6,501.4 1027.8,501.6 1028.1,501.8 1028.4,502 1028.6,502.5 1028.9,503.1 1029.2,503.7 1029.5,504 1029.7,504.1 1030,504.4 1030.3,504.5 1030.5,505 1030.8,505.6 1031.1,506 1031.3,506.3 1031.6,506.5 1031.9,506.6 1032.2,506.4 1032.4,505.9 1032.7,505.5 1033,504.9 1033.2,504.7 1033.5,504.9 1033.8,505 1034,505.2 1034.3,505.6 1034.6,506 1034.9,506.3 1035.1,506.2 1035.4,506.2 1035.7,506.1 1035.9,506 1036.2,505.8 1036.5,505.6 1036.7,505.3 1037,505 1037.3,504.8 1037.6,504.6 1037.8,504.7 1038.1,505 1038.4,505.2 1038.6,505.4 1038.9,505.7 1039.2,506 1039.4,506.3 1039.7,506.5 1040,506.5 1040.3,506.3 1040.5,506.2 1040.8,505.9 1041.1,505.2 1041.3,504.6 1041.6,503.9 1041.9,503 1042.1,502.6 1042.4,502.3 1042.7,502 1043,501.9 1043.2,501.8 1043.5,501.8 1043.8,502 1044,502.1 1044.3,502.5 1044.6,503 1044.8,504 1045.1,504.8 1045.4,505.7 1045.7,506.3 1045.9,506.6 1046.2,506.7 1046.5,506.5 1046.7,506.1 1047,505.9 1047.3,505.8 1047.5,505.5 1047.8,505.4 1048.1,505.5 1048.4,505.2 1048.6,504.7 1048.9,504 1049.2,503.6 1049.4,503.4 1049.7,503.4 1050,503.5 1050.2,503.7 1050.5,504.2 1050.8,504.5 1051.1,505 1051.3,505 1051.6,505.2 1051.9,505.6 1052.1,506.1 1052.4,506.6 1052.7,507.1 1052.9,507.7 1053.2,508.2 1053.5,508.2 1053.8,508.2 1054,508 1054.3,507.9 1054.6,507.7 1054.8,507.4 1055.1,506.8 1055.4,506.3 1055.6,505.6 1055.9,505.2 1056.2,504.6 1056.5,504.4 1056.7,504.3 1057,504.1 1057.3,504.2 1057.5,504.3 1057.8,504.6 1058.1,505 1058.3,505.4 1058.6,505.6 1058.9,505.7 1059.2,505.7 1059.4,505.6 1059.7,505.3 1060,504.6 1060.2,503.7 1060.5,502.9 1060.8,502 1061,501.6 1061.3,501.7 1061.6,502.4 1061.9,502.9 1062.1,503.8 1062.4,504.5 1062.7,505 1062.9,505.6 1063.2,506.1 1063.5,506.5 1063.8,506.7 1064,507.1 1064.3,507.4 1064.6,507.4 1064.8,507.3 1065.1,507.1 1065.4,506.4 1065.6,505.7 1065.9,505 1066.2,504.6 1066.5,504.3 1066.7,504.1 1067,503.9 1067.3,503.6 1067.5,503 1067.8,502.7 1068.1,502.5 1068.3,502.6 1068.6,503 1068.9,503.4 1069.2,503.9 1069.4,504.3 1069.7,504.2 1070,503.9 1070.2,503.8 1070.5,504.1 1070.8,504.3 1071,504.6 1071.3,504.7 1071.6,504.8 1071.9,504.7 1072.1,504.4 1072.4,504.5 1072.7,504.7 1072.9,505.1 1073.2,505.7 1073.5,506 1073.7,506.2 1074,506.2 1074.3,505.6 1074.6,504.8 1074.8,504 1075.1,503.6 1075.4,503.6 1075.6,503.5 1075.9,503.6 1076.2,503.6 1076.4,503.7 1076.7,503.8 1077,503.4 1077.3,503.2 1077.5,503.1 1077.8,502.9 1078.1,502.9 1078.3,503.2 1078.6,503.8 1078.9,504.5 1079.1,505.1 1079.4,505.6 1079.7,506.2 1080,506.9 1080.2,507.4 1080.5,507.6 1080.8,507.9 1081,508.1 1081.3,508.1 1081.6,508.1 1081.8,508.4 1082.1,508.7 1082.4,508.7 1082.7,508.4 1082.9,508 1083.2,507.4 1083.5,506.8 1083.7,506.3 1084,505.8 1084.3,505.5 1084.5,505.3 1084.8,505.1 1085.1,504.8 1085.4,504.6 1085.6,504.9 1085.9,505.3 1086.2,505.7 1086.4,506 1086.7,506.2 1087,506.4 1087.2,506.4 1087.5,506.4 1087.8,506.5 1088.1,506.6 1088.3,506.8 1088.6,506.9 1088.9,507.1 1089.1,507.4 1089.4,507.6 1089.7,507.8 1089.9,507.7 1090.2,507.3 1090.5,506.9 1090.8,506.2 1091,505.6 1091.3,505 1091.6,504.6 1091.8,504.3 1092.1,504.2 1092.4,504.4 1092.6,504.7 1092.9,505.1 1093.2,505.8 1093.5,506.4 1093.7,506.8 1094,507.1 1094.3,507.1 1094.5,507 1094.8,506.9 1095.1,506.4 1095.3,505.7 1095.6,505.2 1095.9,505 1096.2,505.1 1096.4,505.2 1096.7,505.3 1097,504.9 1097.2,504.5 1097.5,504 1097.8,503.7 1098.1,503.5 1098.3,503.7 1098.6,504.2 1098.9,504.6 1099.1,504.9 1099.4,505 1099.7,505.1 1099.9,505.1 1100.2,505 1100.5,505.1 1100.8,505.5 1101,505.8 1101.3,506.1 1101.6,506.6 1101.8,507.1 1102.1,507.5 1102.4,507.7 1102.6,507.2 1102.9,506.7 1103.2,505.8 1103.5,505.1 1103.7,504.7 1104,504.3 1104.3,503.8 1104.5,503.3 1104.8,502.5 1105.1,501.7 1105.3,501 1105.6,500.9 1105.9,501.2 1106.2,501.8 1106.4,502.6 1106.7,503.3 1107,504.2 1107.2,504.9 1107.5,505.2 1107.8,505.4 1108,505.5 1108.3,505.5 1108.6,505.4 1108.9,505.1 1109.1,504.9 1109.4,504.8 1109.7,504.8 1109.9,505.2 1110.2,505.6 1110.5,506 1110.7,506.3 1111,506.5 1111.3,506.6 1111.6,506.4 1111.8,506.4 1112.1,506.3 1112.4,506 1112.6,505.7 1112.9,505.4 1113.2,505.2 1113.4,504.8 1113.7,504.5 1114,503.9 1114.3,503.6 1114.5,503.8 1114.8,504 1115.1,504.5 1115.3,505.4 1115.6,506.1 1115.9,506.8 1116.1,507.2 1116.4,507.6 1116.7,507.8 1117,507.8 1117.2,507.6 1117.5,507.6 1117.8,507.6 1118,507.5 1118.3,507.2 1118.6,506.8 1118.8,506.6 1119.1,506.2 1119.4,505.9 1119.7,505.6 1119.9,505.4 1120.2,505.1 1120.5,504.8 1120.7,504.4 1121,504 1121.3,503.7 1121.5,503.6 1121.8,503.8 1122.1,504.2 1122.4,504.7 1122.6,505.5 1122.9,506.4 1123.2,507.2 1123.4,507.8 1123.7,507.9 1124,507.8 1124.2,507.3 1124.5,506.9 1124.8,506.4 1125.1,505.7 1125.3,505.1 1125.6,504.6 1125.9,504.1 1126.1,503.8 1126.4,503.7 1126.7,503.8 1126.9,503.9 1127.2,504.1 1127.5,504.4 1127.8,504.7 1128,504.9 1128.3,504.9 1128.6,504.6 1128.8,504.3 1129.1,504.2 1129.4,504.5 1129.6,504.5 1129.9,504.3 1130.2,504.2 1130.5,503.8 1130.7,503.9 1131,504.1 1131.3,504.5 1131.5,505.1 1131.8,505.8 1132.1,506 1132.3,506.2 1132.6,506.3 1132.9,506.2 1133.2,506.4 1133.4,506.5 1133.7,506.5 1134,506.3 1134.2,506.2 1134.5,506 1134.8,505.8 1135.1,505.4 1135.3,505.5 1135.6,505.6 1135.9,505.9 1136.1,506.2 1136.4,506.8 1136.7,507.4 1136.9,507.6 1137.2,507.1 1137.5,506.7 1137.8,506.5 1138,506.2 1138.3,506 1138.6,505.8 1138.8,505.5 1139.1,505.2 1139.4,504.9 1139.6,504.6 1139.9,504.2 1140.2,504 1140.5,503.8 1140.7,503.7 1141,503.5 1141.3,503.4 1141.5,502.9 1141.8,502.6 1142.1,502.2 1142.3,502.1 1142.6,502.2 1142.9,502.4 1143.2,502.8 1143.4,503.3 1143.7,504 1144,504.4 1144.2,504.6 1144.5,504.9 1144.8,505.1 1145,505.3 1145.3,505.7 1145.6,506.2 1145.9,506.6 1146.1,506.9 1146.4,507.3 1146.7,507.4 1146.9,507.3 1147.2,507 1147.5,506.9 1147.7,506.8 1148,506.7 1148.3,506.8 1148.6,507.3 1148.8,507.4 1149.1,507.3 1149.4,507 1149.6,506.3 1149.9,505.4 1150.2,504.4 1150.4,503.7 1150.7,503.1 1151,502.5 1151.3,502.2 1151.5,502.1 1151.8,502.2 1152.1,502.9 1152.3,503.7 1152.6,504.7 1152.9,505.6 1153.1,506.4 1153.4,507 1153.7,507.4 1154,507.5 1154.2,507.5 1154.5,507.2 1154.8,506.9 1155,506.5 1155.3,506.5 1155.6,506.4 1155.8,506.3 1156.1,506.2 1156.4,506.2 1156.7,505.9 1156.9,505.8 1157.2,505.8 1157.5,506.3 1157.7,506.6 1158,506.8 1158.3,506.8 1158.5,506.5 1158.8,506.2 1159.1,505.9 1159.4,505.5 1159.6,505.1 1159.9,504.7 1160.2,504.1 1160.4,503.5 1160.7,503.3 1161,503.4 1161.2,503.6 1161.5,503.9 1161.8,504.2 1162.1,504.1 1162.3,503.9 1162.6,503.7 1162.9,503.5 1163.1,503.4 1163.4,503.5 1163.7,503.7 1163.9,503.6 1164.2,503.3 1164.5,502.9 1164.8,502.8 1165,503 1165.3,503.5 1165.6,504.1 1165.8,504.8 1166.1,505.3 1166.4,505.7 1166.6,506.2 1166.9,507 1167.2,507.8 1167.5,507.9 1167.7,507.7 1168,507.2 1168.3,506.7 1168.5,506.1 1168.8,506.1 1169.1,506.3 1169.4,506.8 1169.6,507 1169.9,506.8 1170.2,506.3 1170.4,505.9 1170.7,505.7 1171,505.4 1171.2,505.2 1171.5,505 1171.8,504.8 1172.1,504.7 1172.3,504.7 1172.6,504.9 1172.9,505.2 1173.1,505.4 1173.4,505.7 1173.7,505.8 1173.9,506.1 1174.2,506.3 1174.5,506.5 1174.8,506.6 1175,506.9 1175.3,507.3 1175.6,507.8 1175.8,508 1176.1,507.9 1176.4,507.5 1176.6,506.7 1176.9,506 1177.2,505.4 1177.5,505 1177.7,504.6 1178,504.4 1178.3,504.3 1178.5,504.1 1178.8,504.1 1179.1,503.9 1179.3,503.8 1179.6,503.6 1179.9,503.2 1180.2,503.1 1180.4,503 1180.7,503 1181,503.1 1181.2,503.5 1181.5,504 1181.8,504.8 1182,505.5 1182.3,505.9 1182.6,506.2 1182.9,506.6 1183.1,507 1183.4,507.3 1183.7,507.3 1183.9,507.3 1184.2,507.6 1184.5,507.6 1184.7,507.5 1185,507.4 1185.3,507.3 1185.6,507 1185.8,506.6 1186.1,506.4 1186.4,506.3 1186.6,506.2 1186.9,506.2 1187.2,506.1 1187.4,506.3 1187.7,506.7 1188,506.8 1188.3,506.8 1188.5,506.8 1188.8,506.7 1189.1,506.6 1189.3,506.3 1189.6,505.8 1189.9,505.2 1190.1,504.6 1190.4,504.1 1190.7,503.8 1191,503.9 1191.2,504.3 1191.5,504.9 1191.8,505.5 1192,506 1192.3,506.4 1192.6,507 1192.8,507.5 1193.1,507.9 1193.4,507.9 1193.7,507.6 1193.9,507.1 1194.2,506.5 1194.5,505.7 1194.7,504.9 1195,504 1195.3,503.1 1195.5,502.3 1195.8,501.9 1196.1,501.6 1196.4,502 1196.6,502.5 1196.9,503.1 1197.2,504 1197.4,504.9 1197.7,505.4 1198,505.7 1198.2,505.7 1198.5,505.8 1198.8,506.3 1199.1,506.7 1199.3,507 1199.6,507.3 1199.9,507.4 1200.1,507.4 1200.4,507.5 1200.7,507.2 1200.9,506.8 1201.2,506.4 1201.5,506 1201.8,505.6 1202,505.3 1202.3,505.3 1202.6,505.7 1202.8,506.1 1203.1,506.5 1203.4,506.9 1203.6,506.9 1203.9,506.8 1204.2,506.7 1204.5,506.9 1204.7,507 1205,506.8 1205.3,506.6 1205.5,506.2 1205.8,506 1206.1,505.7 1206.4,505.3 1206.6,504.7 1206.9,504.2 1207.2,504 1207.4,503.9 1207.7,503.9 1208,503.9 1208.2,503.9 1208.5,503.9 1208.8,504.1 1209.1,504.2 1209.3,504.3 1209.6,504.5 1209.9,504.9 1210.1,505 1210.4,504.9 1210.7,504.9 1210.9,505 1211.2,505 1211.5,505.2 1211.8,505.2 1212,505.2 1212.3,505.3 1212.6,505.5 1212.8,505.8 1213.1,506.1 1213.4,506.5 1213.6,506.9 1213.9,507.4 1214.2,507.5 1214.5,507.3 1214.7,506.8 1215,506.5 1215.3,506.1 1215.5,506.2 1215.8,506.4 1216.1,506.4 1216.3,506.1 1216.6,506 1216.9,505.6 1217.2,505.4 1217.4,505.3 1217.7,505.5 1218,505.9 1218.2,506.3 1218.5,506.4 1218.8,506.4 1219,506.4 1219.3,506.4 1219.6,506.4 1219.9,506.4 1220.1,506.6 1220.4,506.9 1220.7,507.1 1220.9,507.3 1221.2,507.2 1221.5,507.2 1221.7,507.1 1222,507.1 1222.3,507.2 1222.6,507.3 1222.8,507.5 1223.1,507.8 1223.4,508 1223.6,508 1223.9,507.9 1224.2,507.8 1224.4,507.8 1224.7,507.9 1225,507.9 1225.3,507.7 1225.5,507 1225.8,506.3 1226.1,505.6 1226.3,505 1226.6,504.3 1226.9,503.8 1227.1,503.7 1227.4,503.8 1227.7,503.9 1228,504.3 1228.2,504.9 1228.5,505.4 1228.8,506.2 1229,507 1229.3,507.6 1229.6,507.8 1229.8,507.7 1230.1,507.6 1230.4,507.1 1230.7,506.7 1230.9,505.9 1231.2,505 1231.5,504.1 1231.7,503.3 1232,502.6 1232.3,502.3 1232.5,502 1232.8,501.9 1233.1,502.1 1233.4,502.3 1233.6,502.5 1233.9,502.7 1234.2,502.9 1234.4,503.1 1234.7,503.4 1235,503.7 1235.2,504.1 1235.5,504.1 1235.8,504 1236.1,503.7 1236.3,503.6 1236.6,503.7 1236.9,504 1237.1,504.3 1237.4,504.6 1237.7,505 1237.9,505.4 1238.2,505.6 1238.5,505.6 1238.8,505.6 1239,505.7 1239.3,505.6 1239.6,505.5 1239.8,505.6 1240.1,505.6 1240.4,505.9 1240.6,506.1 1240.9,505.9 1241.2,505.9 1241.5,505.9 1241.7,505.7 1242,505.5 1242.3,505.6 1242.5,505.9 1242.8,506.7 1243.1,507.5 1243.4,508.2 1243.6,508.6 1243.9,508.8 1244.2,508.6 1244.4,508.2 1244.7,507.8 1245,507.3 1245.2,506.7 1245.5,506.1 1245.8,505.7 1246.1,505.8 1246.3,505.8 1246.6,505.8 1246.9,505.5 1247.1,505.3 1247.4,504.7 1247.7,504.2 1247.9,503.7 1248.2,503.2 1248.5,503 1248.8,502.9 1249,503.1 1249.3,503.7 1249.6,504.2 1249.8,504.7 1250.1,505.1 1250.4,505.4 1250.6,505.2 1250.9,505 1251.2,505.1 1251.5,505.2 1251.7,505.4 1252,505.5 1252.3,505.8 1252.5,505.9 1252.8,505.8 1253.1,505.5 1253.3,504.9 1253.6,504.5 1253.9,504.2 1254.2,504.1 1254.4,504.1 1254.7,504.2 1255,504.3 1255.2,504.1 1255.5,504.2 1255.8,504.2 1256,504.4 1256.3,504.8 1256.6,505.2 1256.9,505.7 1257.1,505.9 1257.4,506 1257.7,506.2 1257.9,506.1 1258.2,506.2 1258.5,506.3 1258.7,506.5 1259,506.6 1259.3,506.8 1259.6,507.2 1259.8,507.6 1260.1,507.8 1260.4,507.8 1260.6,507.7 1260.9,507.4 1261.2,506.9 1261.4,506.1 1261.7,505.4 1262,504.4 1262.3,503.7 1262.5,503 1262.8,502.5 1263.1,502.5 1263.3,502.7 1263.6,503.1 1263.9,503.4 1264.1,504 1264.4,504.6 1264.7,504.9 1265,505.1 1265.2,505.3 1265.5,505.6 1265.8,505.9 1266,506.4 1266.3,506.8 1266.6,507.1 1266.8,507.2 1267.1,507.5 1267.4,507.4 1267.7,507 1267.9,506.1 1268.2,505.1 1268.5,504.4 1268.7,503.8 1269,503.2 1269.3,502.8 1269.5,502.6 1269.8,502.5 1270.1,502.6 1270.4,502.6 1270.6,502.8 1270.9,503.1 1271.2,503.7 1271.4,504.2 1271.7,504.5 1272,504.7 1272.2,504.6 1272.5,504.3 1272.8,503.9 1273.1,503.6 1273.3,503.5 1273.6,503.5 1273.9,503.7 1274.1,504.1 1274.4,504.8 1274.7,505.4 1274.9,505.8 1275.2,506.1 1275.5,506 1275.8,505.7 1276,505.6 1276.3,505.6 1276.6,505.6 1276.8,505.9 1277.1,506.4 1277.4,506.9 1277.7,507.5 1277.9,508 1278.2,508.4 1278.5,508.3 1278.7,507.9 1279,507.4 1279.3,506.9 1279.5,506.4 1279.8,506 1280.1,505.9 1280.4,506.1 1280.6,506.2 1280.9,506.3 1281.2,505.8 1281.4,505.3 1281.7,504.8 1282,504.5 1282.2,504.2 1282.5,504 1282.8,504 1283.1,504.1 1283.3,504.3 1283.6,504.5 1283.9,504.2 1284.1,504 1284.4,504 1284.7,503.9 1284.9,503.9 1285.2,503.9 1285.5,503.9 1285.8,504 1286,504.3 1286.3,504.6 1286.6,504.8 1286.8,504.8 1287.1,504.5 1287.4,504.7 1287.6,504.8 1287.9,505 1288.2,505.5 1288.5,505.9 1288.7,506.1 1289,506.4 1289.3,506.9 1289.5,507.4 1289.8,507.8 1290.1,508.2 1290.3,508.4 1290.6,508.2 1290.9,507.9 1291.2,507.3 1291.4,506.8 1291.7,506.5 1292,506.4 1292.2,506.3 1292.5,506.1 1292.8,506 1293,505.9 1293.3,505.7 1293.6,505.6 1293.9,505.7 1294.1,505.8 1294.4,505.9 1294.7,506 1294.9,506.2 1295.2,506.4 1295.5,506.7 1295.7,506.9 1296,507.3 1296.3,507.6 1296.6,507.7 1296.8,507.5 1297.1,507 1297.4,506.3 1297.6,505.4 1297.9,504.6 1298.2,503.9 1298.4,503.4 1298.7,503 1299,502.6 1299.3,502.4 1299.5,502.3 1299.8,502.3 1300.1,502.4 1300.3,502.6 1300.6,502.8 1300.9,503.1 1301.1,503.7 1301.4,504.2 1301.7,504.4 1302,504.5 1302.2,504.7 1302.5,504.8 1302.8,504.8 1303,505.2 1303.3,505.5 1303.6,505.8 1303.8,506 1304.1,506.1 1304.4,505.9 1304.7,505.4 1304.9,504.9 1305.2,504.5 1305.5,504.3 1305.7,504.7 1306,505.3 1306.3,505.8 1306.5,506.1 1306.8,506.1 1307.1,506 1307.4,505.6 1307.6,505.2 1307.9,505.2 1308.2,505.5 1308.4,506.1 1308.7,506.5 1309,506.7 1309.2,506.9 1309.5,506.9 1309.8,506.7 1310.1,506.3 1310.3,505.8 1310.6,505.5 1310.9,505.1 1311.1,505 1311.4,505 1311.7,505 1311.9,504.8 1312.2,504.4 1312.5,504 1312.8,503.7 1313,503.7 1313.3,503.6" fill="none" stroke="#d8d000" stroke-width="1.8" stroke-linejoin="round"/>
<g stroke="#c0c0c0" stroke-width="2"><line x1="227.4" y1="427.4" x2="227.4" y2="585.8"/>
<line x1="220.6" y1="427.4" x2="234.4" y2="427.4"/><line x1="220.6" y1="585.8" x2="234.4" y2="585.8"/></g>
<circle cx="227.4" cy="506.6" r="4.2" fill="#000"/>
<path d="M167.3,902.6H179.3M173.3,882.8H179.3M173.3,863H179.3M173.3,843.2H179.3M173.3,823.4H179.3M167.3,803.6H179.3M173.3,783.8H179.3M173.3,764H179.3M173.3,744.2H179.3M173.3,724.4H179.3M167.3,704.6H179.3M173.3,684.8H179.3M173.3,665H179.3M173.3,645.2H179.3M173.3,625.4H179.3M167.3,605.6H179.3M173.3,585.8H179.3M173.3,566H179.3M173.3,546.2H179.3M173.3,526.4H179.3M167.3,506.6H179.3M173.3,486.8H179.3M173.3,467H179.3M173.3,447.2H179.3M173.3,427.4H179.3M167.3,407.6H179.3M173.3,387.8H179.3M173.3,368H179.3M173.3,348.2H179.3M173.3,328.4H179.3M167.3,308.6H179.3M173.3,288.8H179.3M173.3,269H179.3M173.3,249.2H179.3M173.3,229.4H179.3M167.3,209.6H179.3M173.3,189.8H179.3M173.3,170H179.3M173.3,150.2H179.3M173.3,130.4H179.3M167.3,110.6H179.3M179.3,902.6V914.6M179.3,110.6V99.4M195.5,902.6V908.6M195.5,110.6V105.4M211.7,902.6V908.6M211.7,110.6V105.4M227.9,902.6V908.6M227.9,110.6V105.4M244.1,902.6V908.6M244.1,110.6V105.4M260.3,902.6V908.6M260.3,110.6V105.4M276.5,902.6V908.6M276.5,110.6V105.4M292.7,902.6V908.6M292.7,110.6V105.4M308.9,902.6V908.6M308.9,110.6V105.4M325.1,902.6V908.6M325.1,110.6V105.4M341.3,902.6V914.6M341.3,110.6V99.4M357.5,902.6V908.6M357.5,110.6V105.4M373.7,902.6V908.6M373.7,110.6V105.4M389.9,902.6V908.6M389.9,110.6V105.4M406.1,902.6V908.6M406.1,110.6V105.4M422.3,902.6V908.6M422.3,110.6V105.4M438.5,902.6V908.6M438.5,110.6V105.4M454.7,902.6V908.6M454.7,110.6V105.4M470.9,902.6V908.6M470.9,110.6V105.4M487.1,902.6V908.6M487.1,110.6V105.4M503.3,902.6V914.6M503.3,110.6V99.4M519.5,902.6V908.6M519.5,110.6V105.4M535.7,902.6V908.6M535.7,110.6V105.4M551.9,902.6V908.6M551.9,110.6V105.4M568.1,902.6V908.6M568.1,110.6V105.4M584.3,902.6V908.6M584.3,110.6V105.4M600.5,902.6V908.6M600.5,110.6V105.4M616.7,902.6V908.6M616.7,110.6V105.4M632.9,902.6V908.6M632.9,110.6V105.4M649.1,902.6V908.6M649.1,110.6V105.4M665.3,902.6V914.6M665.3,110.6V99.4M681.5,902.6V908.6M681.5,110.6V105.4M697.7,902.6V908.6M697.7,110.6V105.4M713.9,902.6V908.6M713.9,110.6V105.4M730.1,902.6V908.6M730.1,110.6V105.4M746.3,902.6V908.6M746.3,110.6V105.4M762.5,902.6V908.6M762.5,110.6V105.4M778.7,902.6V908.6M778.7,110.6V105.4M794.9,902.6V908.6M794.9,110.6V105.4M811.1,902.6V908.6M811.1,110.6V105.4M827.3,902.6V914.6M827.3,110.6V99.4M843.5,902.6V908.6M843.5,110.6V105.4M859.7,902.6V908.6M859.7,110.6V105.4M875.9,902.6V908.6M875.9,110.6V105.4M892.1,902.6V908.6M892.1,110.6V105.4M908.3,902.6V908.6M908.3,110.6V105.4M924.5,902.6V908.6M924.5,110.6V105.4M940.7,902.6V908.6M940.7,110.6V105.4M956.9,902.6V908.6M956.9,110.6V105.4M973.1,902.6V908.6M973.1,110.6V105.4M989.3,902.6V914.6M989.3,110.6V99.4M1005.5,902.6V908.6M1005.5,110.6V105.4M1021.7,902.6V908.6M1021.7,110.6V105.4M1037.9,902.6V908.6M1037.9,110.6V105.4M1054.1,902.6V908.6M1054.1,110.6V105.4M1070.3,902.6V908.6M1070.3,110.6V105.4M1086.5,902.6V908.6M1086.5,110.6V105.4M1102.7,902.6V908.6M1102.7,110.6V105.4M1118.9,902.6V908.6M1118.9,110.6V105.4M1135.1,902.6V908.6M1135.1,110.6V105.4M1151.3,902.6V914.6M1151.3,110.6V99.4M1167.5,902.6V908.6M1167.5,110.6V105.4M1183.7,902.6V908.6M1183.7,110.6V105.4M1199.9,902.6V908.6M1199.9,110.6V105.4M1216.1,902.6V908.6M1216.1,110.6V105.4M1232.3,902.6V908.6M1232.3,110.6V105.4M1248.5,902.6V908.6M1248.5,110.6V105.4M1264.7,902.6V908.6M1264.7,110.6V105.4M1280.9,902.6V908.6M1280.9,110.6V105.4M1297.1,902.6V908.6M1297.1,110.6V105.4M1313.3,902.6V914.6M1313.3,110.6V99.4M1329.5,902.6V908.6M1329.5,110.6V105.4M1345.7,902.6V908.6M1345.7,110.6V105.4M1361.9,902.6V908.6M1361.9,110.6V105.4M1378.1,902.6V908.6M1378.1,110.6V105.4M1394.3,902.6V908.6M1394.3,110.6V105.4M1410.5,902.6V908.6M1410.5,110.6V105.4M1426.7,902.6V908.6M1426.7,110.6V105.4M1442.9,902.6V908.6M1442.9,110.6V105.4M1459.1,902.6V908.6M1459.1,110.6V105.4M1475.3,902.6V914.6M1475.3,110.6V99.4M1475.3,493.4H1480.8M1475.3,480.2H1480.8M1475.3,467H1480.8M1475.3,453.8H1480.8M1475.3,440.6H1486.3M1475.3,427.4H1480.8M1475.3,414.2H1480.8M1475.3,401H1480.8M1475.3,387.8H1480.8M1475.3,374.6H1486.3M1475.3,361.4H1480.8M1475.3,348.2H1480.8M1475.3,335H1480.8M1475.3,321.8H1480.8M1475.3,308.6H1486.3M1475.3,295.4H1480.8M1475.3,282.2H1480.8M1475.3,269H1480.8M1475.3,255.8H1480.8M1475.3,242.6H1486.3M1475.3,229.4H1480.8M1475.3,216.2H1480.8M1475.3,203H1480.8M1475.3,189.8H1480.8M1475.3,176.6H1486.3M1475.3,163.4H1480.8M1475.3,150.2H1480.8M1475.3,137H1480.8M1475.3,123.8H1480.8M1475.3,902.6H1486.3M1475.3,889.4H1480.8M1475.3,876.2H1480.8M1475.3,863H1480.8M1475.3,849.8H1480.8M1475.3,836.6H1486.3M1475.3,823.4H1480.8M1475.3,810.2H1480.8M1475.3,797H1480.8M1475.3,783.8H1480.8M1475.3,770.6H1486.3M1475.3,757.4H1480.8M1475.3,744.2H1480.8M1475.3,731H1480.8M1475.3,717.8H1480.8M1475.3,704.6H1486.3M1475.3,691.4H1480.8M1475.3,678.2H1480.8M1475.3,665H1480.8M1475.3,651.8H1480.8M1475.3,638.6H1486.3M1475.3,625.4H1480.8M1475.3,612.2H1480.8M1475.3,599H1480.8M1475.3,585.8H1480.8M1475.3,572.6H1486.3M1475.3,559.4H1480.8M1475.3,546.2H1480.8M1475.3,533H1480.8M1475.3,519.8H1480.8" stroke="#000" stroke-width="1.5" fill="none"/>
<rect x="179.3" y="110.6" width="1296" height="792" fill="none" stroke="#000" stroke-width="2.4"/>
<line x1="1346" y1="110.6" x2="1378" y2="110.6" stroke="rgba(20,165,165,0.62)" stroke-width="2"/>
<text x="155.8" y="912.6" font-size="28" text-anchor="end" fill="#000">−100</text>
<text x="155.8" y="813.6" font-size="28" text-anchor="end" fill="#000">−75</text>
<text x="155.8" y="714.6" font-size="28" text-anchor="end" fill="#000">−50</text>
<text x="155.8" y="615.6" font-size="28" text-anchor="end" fill="#000">−25</text>
<text x="155.8" y="516.6" font-size="28" text-anchor="end" fill="#000">0</text>
<text x="155.8" y="417.6" font-size="28" text-anchor="end" fill="#000">25</text>
<text x="155.8" y="318.6" font-size="28" text-anchor="end" fill="#000">50</text>
<text x="155.8" y="219.6" font-size="28" text-anchor="end" fill="#000">75</text>
<text x="155.8" y="120.6" font-size="28" text-anchor="end" fill="#000">100</text>
<text x="179.3" y="946" font-size="28" text-anchor="middle" fill="#000">−10</text>
<text x="341.3" y="946" font-size="28" text-anchor="middle" fill="#000">0</text>
<text x="503.3" y="946" font-size="28" text-anchor="middle" fill="#000">10</text>
<text x="665.3" y="946" font-size="28" text-anchor="middle" fill="#000">20</text>
<text x="827.3" y="946" font-size="28" text-anchor="middle" fill="#000">30</text>
<text x="989.3" y="946" font-size="28" text-anchor="middle" fill="#000">40</text>
<text x="1151.3" y="946" font-size="28" text-anchor="middle" fill="#000">50</text>
<text x="1313.3" y="946" font-size="28" text-anchor="middle" fill="#000">60</text>
<text x="1475.3" y="946" font-size="28" text-anchor="middle" fill="#000">70</text>
<text x="1582.5" y="185.8" font-size="28" text-anchor="end" fill="#000">1000.0</text>
<text x="1582.5" y="251.8" font-size="28" text-anchor="end" fill="#000">997.5</text>
<text x="1582.5" y="317.8" font-size="28" text-anchor="end" fill="#000">995.0</text>
<text x="1582.5" y="383.8" font-size="28" text-anchor="end" fill="#000">992.5</text>
<text x="1582.5" y="449.8" font-size="28" text-anchor="end" fill="#000">990.0</text>
<text x="1575" y="582.6" font-size="28" text-anchor="end" fill="#000">1000</text>
<text x="1575" y="648.6" font-size="28" text-anchor="end" fill="#000">500</text>
<text x="1575" y="714.6" font-size="28" text-anchor="end" fill="#000">0</text>
<text x="1575" y="780.6" font-size="28" text-anchor="end" fill="#000">−500</text>
<text x="1575" y="846.6" font-size="28" text-anchor="end" fill="#000">−1000</text>
<text x="1575" y="912.6" font-size="28" text-anchor="end" fill="#000">−1500</text>
<text x="826.8" y="1000.5" font-size="36.1" text-anchor="middle" fill="#000">Time [min] from 2020−02−27 14:30:00 UTC</text>
<text x="65" y="506.3" font-size="36" text-anchor="middle" transform="rotate(-90 65 506.3)">Obs’d Gravity [nm/s<tspan font-size="24.5" dy="-12">2</tspan><tspan dy="12">]</tspan></text>
<text x="1638.2" y="308.4" font-size="36" text-anchor="middle" transform="rotate(-90 1638.2 308.4)">Pressure [hPa]</text>
<text x="1631" y="704.3" font-size="36" text-anchor="middle" transform="rotate(-90 1631 704.3)">Tide [nm/s<tspan font-size="24.5" dy="-12">2</tspan><tspan dy="12">]</tspan></text>
<text x="1011.8" y="82.2" font-size="32.3" text-anchor="middle" fill="#000" font-weight="bold">SCG_054 gravimeter Onsala Space Observatory, Sweden</text>
<text x="1403" y="308.8" font-size="24" text-anchor="middle" fill="#000" transform="rotate(-90 1403 308.8)">1 DIV = 0.5 hPa/h</text>
<text x="1443" y="308.8" font-size="24" text-anchor="middle" fill="#000" transform="rotate(-90 1443 308.8)">average = 0.0746</text>
<text x="261" y="507" font-size="24.2" text-anchor="middle" fill="#000" transform="rotate(-90 261 507)">Typical noise level</text>
<text x="186.5" y="759.4" font-size="28" text-anchor="start" fill="#a0a0a0">Start:</text>
<text x="186.5" y="802" font-size="28" text-anchor="start" fill="#a0a0a0">14:55:00</text>
<text x="208" y="888" font-size="27.9" text-anchor="start" fill="#000" font-weight="bold">The latest 1−hour, 1−second sampling</text>
<text x="1446" y="888" font-size="27.9" text-anchor="end" fill="#000" font-weight="bold">End at 2020−02−27 15:29:59 UTC</text>
<rect x="183" y="18.5" width="372.5" height="162.9" fill="#fff" stroke="#777" stroke-width="1"/>
<line x1="220" y1="39.3" x2="276" y2="39.3" stroke="#5050ff" stroke-width="1"/>
<circle cx="248.3" cy="39.3" r="4.2" fill="#0000ff"/>
<line x1="220" y1="69.5" x2="276" y2="69.5" stroke="#40d0d0" stroke-width="1"/>
<circle cx="248.3" cy="69.5" r="4.2" fill="#00c8c8"/>
<line x1="220" y1="99.8" x2="276" y2="99.8" stroke="#000" stroke-width="3"/>
<line x1="220" y1="130.0" x2="276" y2="130.0" stroke="#c0c0c0" stroke-width="3"/>
<line x1="220" y1="160.3" x2="276" y2="160.3" stroke="#ff5050" stroke-width="1"/>
<circle cx="248.3" cy="160.3" r="4.2" fill="#ff0000"/>
<text x="295" y="48" font-size="24" text-anchor="start" fill="#000">Pressure</text>
<text x="295" y="78.2" font-size="24" text-anchor="start" fill="#000">dP/dt range ±0.3 hPa/s</text>
<text x="295" y="108.5" font-size="24" text-anchor="start" fill="#000">Residual</text>
<text x="295" y="138.7" font-size="24" text-anchor="start" fill="#000">10 minutes slice</text>
<text x="295" y="169" font-size="24" text-anchor="start" fill="#000">Theor.Tide</text>
</svg></body></html>
